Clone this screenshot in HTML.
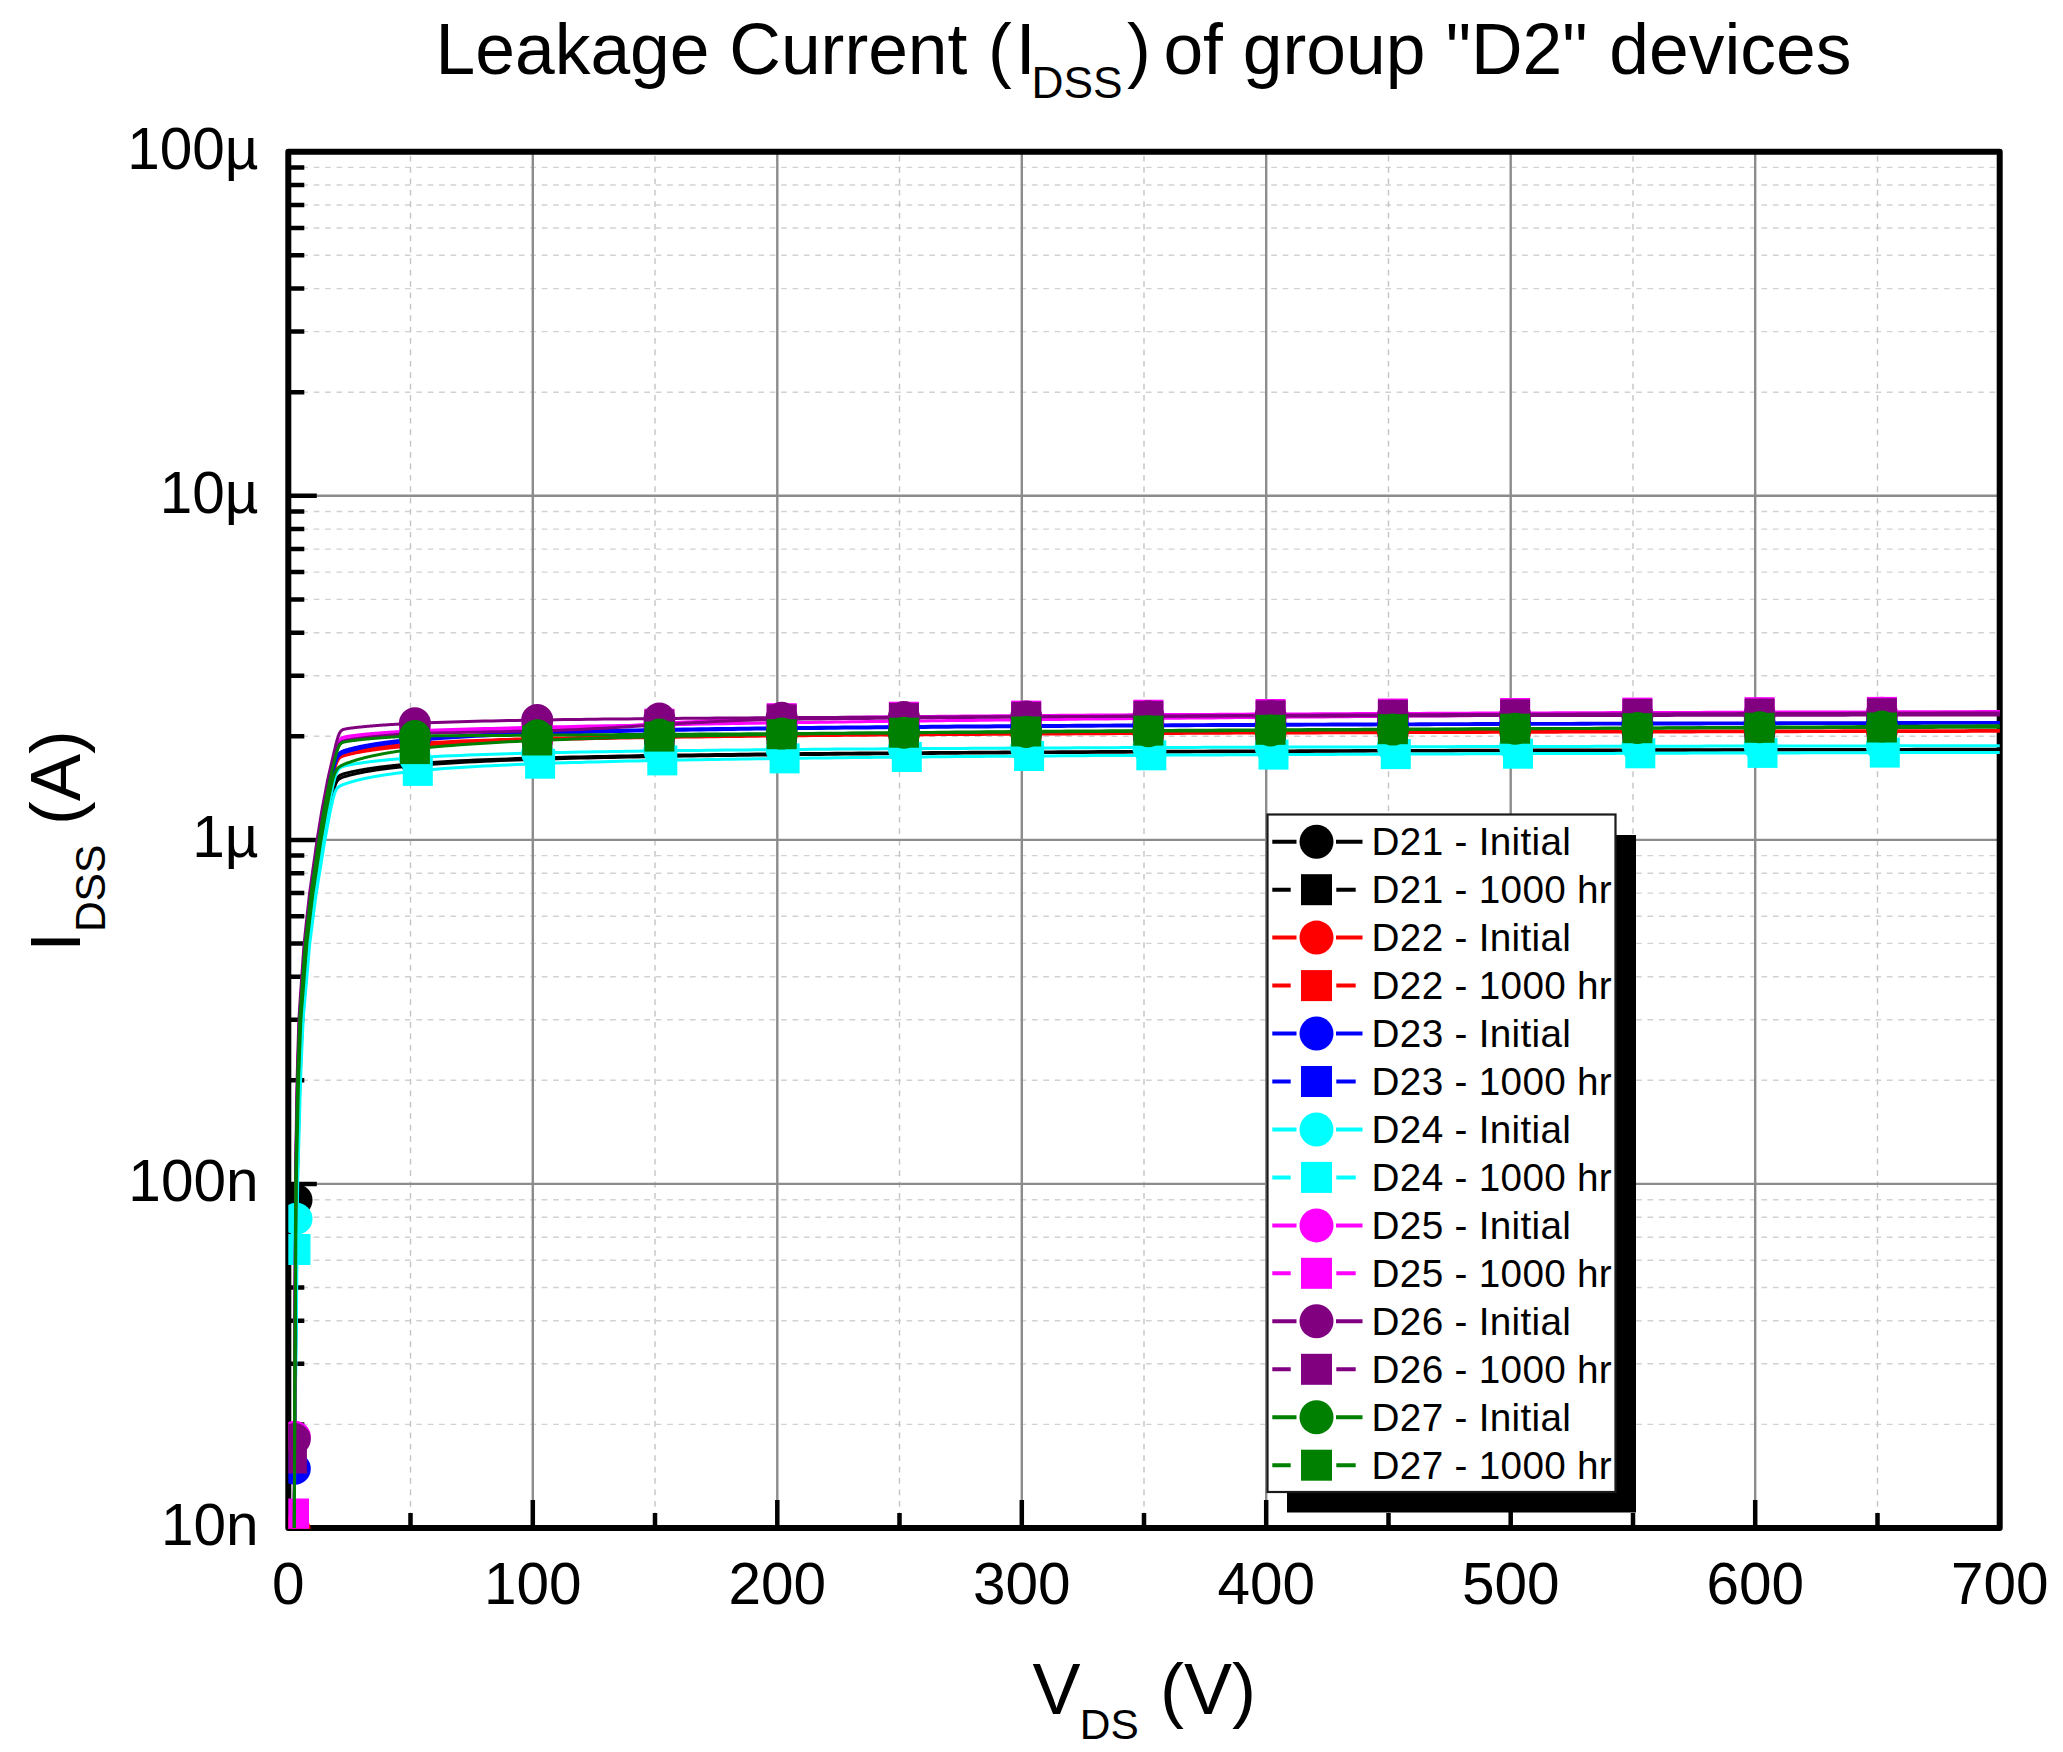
<!DOCTYPE html>
<html lang="en"><head><meta charset="utf-8"><title>Leakage Current (IDSS) of group "D2" devices</title>
<style>html,body{margin:0;padding:0;background:#fff}body{width:2063px;height:1752px;overflow:hidden}svg{display:block}</style></head>
<body>
<svg width="2063" height="1752" viewBox="0 0 2063 1752">
<rect width="2063" height="1752" fill="#fff"/>
<path d="M302.3 1424.4H1996.7M302.3 1363.8H1996.7M302.3 1320.8H1996.7M302.3 1287.5H1996.7M302.3 1260.3H1996.7M302.3 1237.2H1996.7M302.3 1217.3H1996.7M302.3 1199.7H1996.7M302.3 1080.3H1996.7M302.3 1019.8H1996.7M302.3 976.8H1996.7M302.3 943.4H1996.7M302.3 916.2H1996.7M302.3 893.1H1996.7M302.3 873.2H1996.7M302.3 855.6H1996.7M302.3 736.3H1996.7M302.3 675.7H1996.7M302.3 632.7H1996.7M302.3 599.4H1996.7M302.3 572.1H1996.7M302.3 549.1H1996.7M302.3 529.1H1996.7M302.3 511.5H1996.7M302.3 392.2H1996.7M302.3 331.6H1996.7M302.3 288.6H1996.7M302.3 255.3H1996.7M302.3 228.0H1996.7M302.3 205.0H1996.7M302.3 185.0H1996.7M302.3 167.4H1996.7" stroke="#d2d2d2" stroke-width="1.4" stroke-dasharray="5.7 5.7" fill="none"/>
<path d="M410.5 155.7V1514.0M655.0 155.7V1514.0M899.5 155.7V1514.0M1144.0 155.7V1514.0M1388.5 155.7V1514.0M1633.0 155.7V1514.0M1877.5 155.7V1514.0" stroke="#c4c4c4" stroke-width="1.4" stroke-dasharray="5.7 5.7" fill="none"/>
<path d="M288.3 1183.9H1999.7M288.3 839.9H1999.7M288.3 495.8H1999.7M532.8 151.7V1528.0M777.3 151.7V1528.0M1021.8 151.7V1528.0M1266.2 151.7V1528.0M1510.7 151.7V1528.0M1755.2 151.7V1528.0" stroke="#8c8c8c" stroke-width="2.4" fill="none"/>
<rect x="288.3" y="151.7" width="1711.4" height="1376.3" fill="none" stroke="#000" stroke-width="6" stroke-linejoin="round"/>
<path d="M288.3 1424.4h16M288.3 1363.8h16M288.3 1320.8h16M288.3 1287.5h16M288.3 1260.3h16M288.3 1237.2h16M288.3 1217.3h16M288.3 1199.7h16M288.3 1183.9h28.5M288.3 1080.3h16M288.3 1019.8h16M288.3 976.8h16M288.3 943.4h16M288.3 916.2h16M288.3 893.1h16M288.3 873.2h16M288.3 855.6h16M288.3 839.9h28.5M288.3 736.3h16M288.3 675.7h16M288.3 632.7h16M288.3 599.4h16M288.3 572.1h16M288.3 549.1h16M288.3 529.1h16M288.3 511.5h16M288.3 495.8h28.5M288.3 392.2h16M288.3 331.6h16M288.3 288.6h16M288.3 255.3h16M288.3 228.0h16M288.3 205.0h16M288.3 185.0h16M288.3 167.4h16M410.5 1528.0v-15M532.8 1528.0v-28M655.0 1528.0v-15M777.3 1528.0v-28M899.5 1528.0v-15M1021.8 1528.0v-28M1144.0 1528.0v-15M1266.2 1528.0v-28M1388.5 1528.0v-15M1510.7 1528.0v-28M1633.0 1528.0v-15M1755.2 1528.0v-28M1877.5 1528.0v-15" stroke="#000" stroke-width="4.5" stroke-linecap="butt" fill="none"/>
<clipPath id="cp"><rect x="288.3" y="151.7" width="1711.4" height="1377.0"/></clipPath>
<g clip-path="url(#cp)">
<path d="M294.3 1528.0L294.8 1426.9L295.3 1364.9L295.8 1329.7L296.3 1278.3L296.8 1208.5L297.3 1172.5L297.8 1154.8L298.3 1136.9L298.8 1117.0L299.3 1097.1L299.8 1078.5L300.3 1067.5L300.8 1055.8L301.3 1043.7L301.8 1031.6L302.3 1019.5L302.8 1013.4L303.3 1007.5L303.8 1001.6L304.3 995.7L304.8 989.9L305.3 984.0L305.8 978.2L306.3 972.3L306.8 966.3L307.3 960.2L307.8 954.2L308.3 948.1L308.8 942.7L309.3 938.8L309.8 934.8L310.3 930.9L310.8 926.9L311.3 923.0L311.8 919.0L312.3 915.1L312.8 911.1L313.3 907.1L313.8 903.1L314.3 899.1L314.8 895.1L315.3 891.7L315.8 888.5L316.3 885.4L316.8 882.2L317.3 879.1L317.8 876.0L318.3 872.8L318.8 869.7L319.3 866.5L319.8 863.4L320.3 860.3L320.8 857.1L321.3 853.9L321.8 850.8L322.3 847.6L322.8 844.5L323.3 841.3L323.8 838.4L324.3 835.7L324.8 832.9L325.3 830.2L325.8 827.5L326.3 824.7L326.8 822.0L327.3 819.2L327.8 816.5L328.3 813.7L328.8 811.0L329.3 808.5L329.8 806.1L330.3 803.8L330.8 801.4L331.3 799.1L331.8 796.8L332.3 794.5L332.8 792.2L333.3 790.1L333.8 788.0L334.3 786.0L334.8 784.1L335.3 782.5L335.8 781.2L336.3 780.1L336.8 779.1L337.3 778.2L337.8 777.5L338.3 776.9L338.8 776.4L339.3 775.9L339.8 775.6L340.3 775.2L340.8 775.0L341.3 774.7L341.8 774.5L342.3 774.3L342.8 774.2L343.3 774.0L343.8 773.8L344.3 773.7L344.8 773.5L345.3 773.4L345.8 773.3L346.3 773.1L346.8 773.0L347.3 772.9L347.8 772.8L348.3 772.6L348.8 772.5L349.3 772.4L349.8 772.3L350.3 772.2L350.8 772.1L351.3 771.9L351.8 771.8L352.3 771.7L352.8 771.6L353.3 771.5L353.8 771.4L354.3 771.3L354.8 771.2L355.3 771.1L355.8 771.0L356.3 770.9L356.8 770.8L357.3 770.7L357.8 770.6L358.3 770.5L358.8 770.4L359.3 770.3L359.8 770.2L360.3 770.1L360.8 770.0L361.3 769.9L361.8 769.9L362.3 769.8L362.8 769.7L363.3 769.6L363.8 769.5L364.3 769.4L364.8 769.3L365.3 769.3L365.8 769.2L366.3 769.1L366.8 769.0L367.3 768.9L367.8 768.8L368.3 768.8L368.8 768.7L369.3 768.6L369.8 768.5L370.3 768.5L370.8 768.4L371.3 768.3L371.8 768.2L372.3 768.2L372.8 768.1L373.3 768.0L373.8 768.0L374.3 767.9L374.8 767.8L375.3 767.7L375.8 767.7L376.3 767.6L376.8 767.5L377.3 767.5L377.8 767.4L378.3 767.3L378.8 767.3L379.3 767.2L379.8 767.1L380.3 767.1L380.8 767.0L381.3 767.0L381.8 766.9L382.3 766.8L382.8 766.8L383.3 766.7L383.8 766.7L384.3 766.6L384.8 766.5L385.3 766.5L385.8 766.4L386.3 766.4L386.8 766.3L387.3 766.2L387.8 766.2L388.3 766.1L388.8 766.1L389.3 766.0L389.8 766.0L390.3 765.9L390.8 765.9L391.3 765.8L391.8 765.8L392.3 765.7L392.8 765.6L393.3 765.6L393.8 765.5L394.3 765.5L394.8 765.4L395.3 765.4L395.8 765.3L396.3 765.3L396.8 765.2L397.3 765.2L397.8 765.1L398.3 765.1L398.8 765.0L399.3 765.0L399.8 765.0L400.3 764.9L400.8 764.9L401.3 764.8L401.8 764.8L402.3 764.7L402.8 764.7L403.3 764.6L403.8 764.6L404.3 764.5L404.8 764.5L405.3 764.4L405.8 764.4L406.3 764.4L406.8 764.3L407.3 764.3L407.8 764.2L408.3 764.2L408.8 764.1L409.3 764.1L409.8 764.1L410.3 764.0L410.8 764.0L411.3 763.9L411.8 763.9L412.3 763.9L412.8 763.8L413.3 763.8L413.8 763.7L414.3 763.7L414.8 763.7L415.3 763.6L415.8 763.6L416.3 763.5L416.8 763.5L417.3 763.5L417.8 763.4L418.3 763.4L418.8 763.4L419.3 763.3L420.0 763.3L428.0 762.7L436.0 762.2L444.0 761.7L452.0 761.3L460.0 760.8L468.0 760.5L476.0 760.1L484.0 759.8L492.0 759.4L500.0 759.2L508.0 758.9L516.0 758.6L524.0 758.3L532.0 758.1L540.0 757.9L548.0 757.7L556.0 757.5L564.0 757.3L572.0 757.1L580.0 756.9L588.0 756.7L596.0 756.5L604.0 756.4L612.0 756.2L620.0 756.1L628.0 755.9L636.0 755.8L644.0 755.6L652.0 755.5L660.0 755.4L668.0 755.3L676.0 755.1L684.0 755.0L692.0 754.9L700.0 754.8L708.0 754.7L716.0 754.6L724.0 754.5L732.0 754.4L740.0 754.3L748.0 754.2L756.0 754.1L764.0 754.0L772.0 754.0L780.0 753.9L788.0 753.8L796.0 753.7L804.0 753.6L812.0 753.6L820.0 753.5L828.0 753.4L836.0 753.3L844.0 753.3L852.0 753.2L860.0 753.1L868.0 753.1L876.0 753.0L884.0 753.0L892.0 752.9L900.0 752.8L908.0 752.8L916.0 752.7L924.0 752.7L932.0 752.6L940.0 752.5L948.0 752.5L956.0 752.4L964.0 752.4L972.0 752.3L980.0 752.3L988.0 752.2L996.0 752.2L1004.0 752.1L1012.0 752.1L1020.0 752.1L1028.0 752.0L1036.0 752.0L1044.0 751.9L1052.0 751.9L1060.0 751.8L1068.0 751.8L1076.0 751.8L1084.0 751.7L1092.0 751.7L1100.0 751.6L1108.0 751.6L1116.0 751.6L1124.0 751.5L1132.0 751.5L1140.0 751.5L1148.0 751.4L1156.0 751.4L1164.0 751.3L1172.0 751.3L1180.0 751.3L1188.0 751.2L1196.0 751.2L1204.0 751.2L1212.0 751.1L1220.0 751.1L1228.0 751.1L1236.0 751.1L1244.0 751.0L1252.0 751.0L1260.0 751.0L1268.0 750.9L1276.0 750.9L1284.0 750.9L1292.0 750.9L1300.0 750.8L1308.0 750.8L1316.0 750.8L1324.0 750.7L1332.0 750.7L1340.0 750.7L1348.0 750.7L1356.0 750.6L1364.0 750.6L1372.0 750.6L1380.0 750.6L1388.0 750.5L1396.0 750.5L1404.0 750.5L1412.0 750.5L1420.0 750.4L1428.0 750.4L1436.0 750.4L1444.0 750.4L1452.0 750.3L1460.0 750.3L1468.0 750.3L1476.0 750.3L1484.0 750.3L1492.0 750.2L1500.0 750.2L1508.0 750.2L1516.0 750.2L1524.0 750.2L1532.0 750.1L1540.0 750.1L1548.0 750.1L1556.0 750.1L1564.0 750.1L1572.0 750.0L1580.0 750.0L1588.0 750.0L1596.0 750.0L1604.0 750.0L1612.0 749.9L1620.0 749.9L1628.0 749.9L1636.0 749.9L1644.0 749.9L1652.0 749.8L1660.0 749.8L1668.0 749.8L1676.0 749.8L1684.0 749.8L1692.0 749.8L1700.0 749.7L1708.0 749.7L1716.0 749.7L1724.0 749.7L1732.0 749.7L1740.0 749.7L1748.0 749.6L1756.0 749.6L1764.0 749.6L1772.0 749.6L1780.0 749.6L1788.0 749.6L1796.0 749.6L1804.0 749.5L1812.0 749.5L1820.0 749.5L1828.0 749.5L1836.0 749.5L1844.0 749.5L1852.0 749.4L1860.0 749.4L1868.0 749.4L1876.0 749.4L1884.0 749.4L1892.0 749.4L1900.0 749.4L1908.0 749.4L1916.0 749.3L1924.0 749.3L1932.0 749.3L1940.0 749.3L1948.0 749.3L1956.0 749.3L1964.0 749.3L1972.0 749.2L1980.0 749.2L1988.0 749.2L1996.0 749.2L2004.0 749.2" stroke="#000000" stroke-width="3" fill="none" stroke-linejoin="round"/>
<g fill="#000000"><circle cx="296.5" cy="1200" r="16"/><circle cx="414.9" cy="763.6" r="13.5"/><circle cx="537.2" cy="758.0" r="13.5"/><circle cx="659.4" cy="755.4" r="13.5"/><circle cx="781.7" cy="753.9" r="13.5"/><circle cx="903.9" cy="752.8" r="13.5"/><circle cx="1026.2" cy="752.0" r="13.5"/><circle cx="1148.4" cy="751.4" r="13.5"/><circle cx="1270.6" cy="750.9" r="13.5"/><circle cx="1392.9" cy="750.5" r="13.5"/><circle cx="1515.1" cy="750.2" r="13.5"/><circle cx="1637.4" cy="749.9" r="13.5"/><circle cx="1759.6" cy="749.6" r="13.5"/><circle cx="1881.9" cy="749.4" r="13.5"/></g>
<path d="M294.3 1528.0L294.8 1429.8L295.3 1370.7L295.8 1341.2L296.3 1293.9L296.8 1226.3L297.3 1177.7L297.8 1160.7L298.3 1143.4L298.8 1123.9L299.3 1104.4L299.8 1085.1L300.3 1072.1L300.8 1060.6L301.3 1048.6L301.8 1036.6L302.3 1024.6L302.8 1015.9L303.3 1010.1L303.8 1004.3L304.3 998.5L304.8 992.7L305.3 986.9L305.8 981.1L306.3 975.3L306.8 969.3L307.3 963.3L307.8 957.3L308.3 951.3L308.8 945.3L309.3 940.9L309.8 937.0L310.3 933.1L310.8 929.1L311.3 925.2L311.8 921.3L312.3 917.4L312.8 913.4L313.3 909.4L313.8 905.4L314.3 901.5L314.8 897.5L315.3 893.6L315.8 890.5L316.3 887.4L316.8 884.2L317.3 881.1L317.8 878.0L318.3 874.9L318.8 871.8L319.3 868.6L319.8 865.5L320.3 862.4L320.8 859.3L321.3 856.1L321.8 853.0L322.3 849.8L322.8 846.7L323.3 843.5L323.8 840.4L324.3 837.6L324.8 834.9L325.3 832.2L325.8 829.5L326.3 826.7L326.8 824.0L327.3 821.3L327.8 818.5L328.3 815.8L328.8 813.1L329.3 810.4L329.8 808.0L330.3 805.7L330.8 803.3L331.3 801.0L331.8 798.8L332.3 796.5L332.8 794.3L333.3 792.2L333.8 790.2L334.3 788.3L334.8 786.5L335.3 785.0L335.8 783.6L336.3 782.6L336.8 781.7L337.3 781.0L337.8 780.3L338.3 779.8L338.8 779.3L339.3 778.9L339.8 778.6L340.3 778.3L340.8 778.1L341.3 777.8L341.8 777.6L342.3 777.4L342.8 777.2L343.3 777.0L343.8 776.9L344.3 776.7L344.8 776.6L345.3 776.4L345.8 776.3L346.3 776.1L346.8 776.0L347.3 775.8L347.8 775.7L348.3 775.6L348.8 775.4L349.3 775.3L349.8 775.2L350.3 775.0L350.8 774.9L351.3 774.8L351.8 774.7L352.3 774.6L352.8 774.4L353.3 774.3L353.8 774.2L354.3 774.1L354.8 774.0L355.3 773.9L355.8 773.7L356.3 773.6L356.8 773.5L357.3 773.4L357.8 773.3L358.3 773.2L358.8 773.1L359.3 773.0L359.8 772.9L360.3 772.8L360.8 772.7L361.3 772.6L361.8 772.5L362.3 772.4L362.8 772.3L363.3 772.2L363.8 772.1L364.3 772.0L364.8 771.9L365.3 771.8L365.8 771.7L366.3 771.6L366.8 771.5L367.3 771.5L367.8 771.4L368.3 771.3L368.8 771.2L369.3 771.1L369.8 771.0L370.3 770.9L370.8 770.9L371.3 770.8L371.8 770.7L372.3 770.6L372.8 770.5L373.3 770.5L373.8 770.4L374.3 770.3L374.8 770.2L375.3 770.1L375.8 770.1L376.3 770.0L376.8 769.9L377.3 769.8L377.8 769.8L378.3 769.7L378.8 769.6L379.3 769.6L379.8 769.5L380.3 769.4L380.8 769.3L381.3 769.3L381.8 769.2L382.3 769.1L382.8 769.1L383.3 769.0L383.8 768.9L384.3 768.9L384.8 768.8L385.3 768.7L385.8 768.7L386.3 768.6L386.8 768.6L387.3 768.5L387.8 768.4L388.3 768.4L388.8 768.3L389.3 768.2L389.8 768.2L390.3 768.1L390.8 768.1L391.3 768.0L391.8 767.9L392.3 767.9L392.8 767.8L393.3 767.8L393.8 767.7L394.3 767.7L394.8 767.6L395.3 767.5L395.8 767.5L396.3 767.4L396.8 767.4L397.3 767.3L397.8 767.3L398.3 767.2L398.8 767.2L399.3 767.1L399.8 767.1L400.3 767.0L400.8 766.9L401.3 766.9L401.8 766.8L402.3 766.8L402.8 766.7L403.3 766.7L403.8 766.6L404.3 766.6L404.8 766.5L405.3 766.5L405.8 766.4L406.3 766.4L406.8 766.4L407.3 766.3L407.8 766.3L408.3 766.2L408.8 766.2L409.3 766.1L409.8 766.1L410.3 766.0L410.8 766.0L411.3 765.9L411.8 765.9L412.3 765.8L412.8 765.8L413.3 765.8L413.8 765.7L414.3 765.7L414.8 765.6L415.3 765.6L415.8 765.5L416.3 765.5L416.8 765.4L417.3 765.4L417.8 765.4L418.3 765.3L418.8 765.3L419.3 765.2L420.0 765.2L428.0 764.6L436.0 764.0L444.0 763.5L452.0 763.0L460.0 762.5L468.0 762.1L476.0 761.7L484.0 761.3L492.0 761.0L500.0 760.6L508.0 760.3L516.0 760.0L524.0 759.7L532.0 759.5L540.0 759.2L548.0 759.0L556.0 758.7L564.0 758.5L572.0 758.3L580.0 758.1L588.0 757.9L596.0 757.7L604.0 757.5L612.0 757.4L620.0 757.2L628.0 757.0L636.0 756.9L644.0 756.7L652.0 756.6L660.0 756.5L668.0 756.3L676.0 756.2L684.0 756.1L692.0 755.9L700.0 755.8L708.0 755.7L716.0 755.6L724.0 755.5L732.0 755.4L740.0 755.3L748.0 755.2L756.0 755.1L764.0 755.0L772.0 754.9L780.0 754.8L788.0 754.7L796.0 754.6L804.0 754.5L812.0 754.4L820.0 754.4L828.0 754.3L836.0 754.2L844.0 754.1L852.0 754.0L860.0 754.0L868.0 753.9L876.0 753.8L884.0 753.8L892.0 753.7L900.0 753.6L908.0 753.6L916.0 753.5L924.0 753.4L932.0 753.4L940.0 753.3L948.0 753.3L956.0 753.2L964.0 753.1L972.0 753.1L980.0 753.0L988.0 753.0L996.0 752.9L1004.0 752.9L1012.0 752.8L1020.0 752.8L1028.0 752.7L1036.0 752.7L1044.0 752.6L1052.0 752.6L1060.0 752.5L1068.0 752.5L1076.0 752.4L1084.0 752.4L1092.0 752.3L1100.0 752.3L1108.0 752.3L1116.0 752.2L1124.0 752.2L1132.0 752.1L1140.0 752.1L1148.0 752.1L1156.0 752.0L1164.0 752.0L1172.0 751.9L1180.0 751.9L1188.0 751.9L1196.0 751.8L1204.0 751.8L1212.0 751.8L1220.0 751.7L1228.0 751.7L1236.0 751.7L1244.0 751.6L1252.0 751.6L1260.0 751.6L1268.0 751.5L1276.0 751.5L1284.0 751.5L1292.0 751.4L1300.0 751.4L1308.0 751.4L1316.0 751.3L1324.0 751.3L1332.0 751.3L1340.0 751.2L1348.0 751.2L1356.0 751.2L1364.0 751.2L1372.0 751.1L1380.0 751.1L1388.0 751.1L1396.0 751.1L1404.0 751.0L1412.0 751.0L1420.0 751.0L1428.0 750.9L1436.0 750.9L1444.0 750.9L1452.0 750.9L1460.0 750.8L1468.0 750.8L1476.0 750.8L1484.0 750.8L1492.0 750.8L1500.0 750.7L1508.0 750.7L1516.0 750.7L1524.0 750.7L1532.0 750.6L1540.0 750.6L1548.0 750.6L1556.0 750.6L1564.0 750.5L1572.0 750.5L1580.0 750.5L1588.0 750.5L1596.0 750.5L1604.0 750.4L1612.0 750.4L1620.0 750.4L1628.0 750.4L1636.0 750.4L1644.0 750.3L1652.0 750.3L1660.0 750.3L1668.0 750.3L1676.0 750.3L1684.0 750.2L1692.0 750.2L1700.0 750.2L1708.0 750.2L1716.0 750.2L1724.0 750.1L1732.0 750.1L1740.0 750.1L1748.0 750.1L1756.0 750.1L1764.0 750.1L1772.0 750.0L1780.0 750.0L1788.0 750.0L1796.0 750.0L1804.0 750.0L1812.0 750.0L1820.0 749.9L1828.0 749.9L1836.0 749.9L1844.0 749.9L1852.0 749.9L1860.0 749.9L1868.0 749.8L1876.0 749.8L1884.0 749.8L1892.0 749.8L1900.0 749.8L1908.0 749.8L1916.0 749.8L1924.0 749.7L1932.0 749.7L1940.0 749.7L1948.0 749.7L1956.0 749.7L1964.0 749.7L1972.0 749.6L1980.0 749.6L1988.0 749.6L1996.0 749.6L2004.0 749.6" stroke="#000000" stroke-width="3" fill="none" stroke-linejoin="round"/>
<g fill="#000000"></g>
<path d="M294.3 1528.0L294.8 1399.0L295.3 1307.1L295.8 1214.2L296.3 1167.8L296.8 1143.9L297.3 1119.9L297.8 1096.0L298.3 1075.5L298.8 1062.2L299.3 1048.8L299.8 1035.4L300.3 1022.0L300.8 1014.0L301.3 1007.5L301.8 1001.0L302.3 994.5L302.8 988.0L303.3 981.5L303.8 975.0L304.3 968.5L304.8 962.0L305.3 955.5L305.8 949.0L306.3 943.0L306.8 938.8L307.3 934.5L307.8 930.3L308.3 926.0L308.8 921.8L309.3 917.5L309.8 913.3L310.3 909.0L310.8 904.8L311.3 900.5L311.8 896.3L312.3 892.4L312.8 889.1L313.3 885.7L313.8 882.4L314.3 879.1L314.8 875.7L315.3 872.4L315.8 869.0L316.3 865.7L316.8 862.3L317.3 859.0L317.8 855.7L318.3 852.3L318.8 849.0L319.3 845.6L319.8 842.3L320.3 839.1L320.8 836.2L321.3 833.3L321.8 830.4L322.3 827.5L322.8 824.6L323.3 821.7L323.8 818.8L324.3 815.9L324.8 813.0L325.3 810.2L325.8 807.6L326.3 805.1L326.8 802.6L327.3 800.1L327.8 797.6L328.3 795.1L328.8 792.6L329.3 790.1L329.8 787.6L330.3 785.1L330.8 782.6L331.3 780.2L331.8 778.1L332.3 776.1L332.8 774.1L333.3 772.1L333.8 770.2L334.3 768.3L334.8 766.5L335.3 764.7L335.8 763.1L336.3 761.6L336.8 760.2L337.3 759.0L337.8 757.9L338.3 757.0L338.8 756.2L339.3 755.6L339.8 755.0L340.3 754.6L340.8 754.2L341.3 753.9L341.8 753.7L342.3 753.5L342.8 753.3L343.3 753.1L343.8 752.9L344.3 752.8L344.8 752.7L345.3 752.5L345.8 752.4L346.3 752.3L346.8 752.2L347.3 752.0L347.8 751.9L348.3 751.8L348.8 751.7L349.3 751.6L349.8 751.5L350.3 751.4L350.8 751.3L351.3 751.2L351.8 751.1L352.3 751.0L352.8 750.9L353.3 750.8L353.8 750.7L354.3 750.6L354.8 750.5L355.3 750.4L355.8 750.3L356.3 750.2L356.8 750.1L357.3 750.1L357.8 750.0L358.3 749.9L358.8 749.8L359.3 749.7L359.8 749.6L360.3 749.5L360.8 749.5L361.3 749.4L361.8 749.3L362.3 749.2L362.8 749.1L363.3 749.1L363.8 749.0L364.3 748.9L364.8 748.8L365.3 748.8L365.8 748.7L366.3 748.6L366.8 748.5L367.3 748.5L367.8 748.4L368.3 748.3L368.8 748.2L369.3 748.2L369.8 748.1L370.3 748.0L370.8 748.0L371.3 747.9L371.8 747.8L372.3 747.8L372.8 747.7L373.3 747.6L373.8 747.6L374.3 747.5L374.8 747.5L375.3 747.4L375.8 747.3L376.3 747.3L376.8 747.2L377.3 747.1L377.8 747.1L378.3 747.0L378.8 747.0L379.3 746.9L379.8 746.9L380.3 746.8L380.8 746.7L381.3 746.7L381.8 746.6L382.3 746.6L382.8 746.5L383.3 746.5L383.8 746.4L384.3 746.3L384.8 746.3L385.3 746.2L385.8 746.2L386.3 746.1L386.8 746.1L387.3 746.0L387.8 746.0L388.3 745.9L388.8 745.9L389.3 745.8L389.8 745.8L390.3 745.7L390.8 745.7L391.3 745.6L391.8 745.6L392.3 745.5L392.8 745.5L393.3 745.4L393.8 745.4L394.3 745.4L394.8 745.3L395.3 745.3L395.8 745.2L396.3 745.2L396.8 745.1L397.3 745.1L397.8 745.0L398.3 745.0L398.8 744.9L399.3 744.9L399.8 744.9L400.3 744.8L400.8 744.8L401.3 744.7L401.8 744.7L402.3 744.6L402.8 744.6L403.3 744.6L403.8 744.5L404.3 744.5L404.8 744.4L405.3 744.4L405.8 744.4L406.3 744.3L406.8 744.3L407.3 744.2L407.8 744.2L408.3 744.2L408.8 744.1L409.3 744.1L409.8 744.1L410.3 744.0L410.8 744.0L411.3 743.9L411.8 743.9L412.3 743.9L412.8 743.8L413.3 743.8L413.8 743.8L414.3 743.7L414.8 743.7L415.3 743.7L415.8 743.6L416.3 743.6L416.8 743.5L417.3 743.5L417.8 743.5L418.3 743.4L418.8 743.4L419.3 743.4L420.0 743.3L428.0 742.8L436.0 742.3L444.0 741.9L452.0 741.5L460.0 741.1L468.0 740.8L476.0 740.5L484.0 740.2L492.0 739.9L500.0 739.6L508.0 739.4L516.0 739.1L524.0 738.9L532.0 738.7L540.0 738.5L548.0 738.3L556.0 738.1L564.0 737.9L572.0 737.7L580.0 737.6L588.0 737.4L596.0 737.2L604.0 737.1L612.0 737.0L620.0 736.8L628.0 736.7L636.0 736.6L644.0 736.4L652.0 736.3L660.0 736.2L668.0 736.1L676.0 736.0L684.0 735.9L692.0 735.8L700.0 735.7L708.0 735.6L716.0 735.5L724.0 735.4L732.0 735.3L740.0 735.2L748.0 735.1L756.0 735.1L764.0 735.0L772.0 734.9L780.0 734.8L788.0 734.8L796.0 734.7L804.0 734.6L812.0 734.5L820.0 734.5L828.0 734.4L836.0 734.4L844.0 734.3L852.0 734.2L860.0 734.2L868.0 734.1L876.0 734.1L884.0 734.0L892.0 733.9L900.0 733.9L908.0 733.8L916.0 733.8L924.0 733.7L932.0 733.7L940.0 733.6L948.0 733.6L956.0 733.5L964.0 733.5L972.0 733.4L980.0 733.4L988.0 733.4L996.0 733.3L1004.0 733.3L1012.0 733.2L1020.0 733.2L1028.0 733.1L1036.0 733.1L1044.0 733.1L1052.0 733.0L1060.0 733.0L1068.0 733.0L1076.0 732.9L1084.0 732.9L1092.0 732.8L1100.0 732.8L1108.0 732.8L1116.0 732.7L1124.0 732.7L1132.0 732.7L1140.0 732.6L1148.0 732.6L1156.0 732.6L1164.0 732.5L1172.0 732.5L1180.0 732.5L1188.0 732.5L1196.0 732.4L1204.0 732.4L1212.0 732.4L1220.0 732.3L1228.0 732.3L1236.0 732.3L1244.0 732.3L1252.0 732.2L1260.0 732.2L1268.0 732.2L1276.0 732.1L1284.0 732.1L1292.0 732.1L1300.0 732.1L1308.0 732.0L1316.0 732.0L1324.0 732.0L1332.0 732.0L1340.0 731.9L1348.0 731.9L1356.0 731.9L1364.0 731.9L1372.0 731.9L1380.0 731.8L1388.0 731.8L1396.0 731.8L1404.0 731.8L1412.0 731.7L1420.0 731.7L1428.0 731.7L1436.0 731.7L1444.0 731.7L1452.0 731.6L1460.0 731.6L1468.0 731.6L1476.0 731.6L1484.0 731.6L1492.0 731.5L1500.0 731.5L1508.0 731.5L1516.0 731.5L1524.0 731.5L1532.0 731.4L1540.0 731.4L1548.0 731.4L1556.0 731.4L1564.0 731.4L1572.0 731.4L1580.0 731.3L1588.0 731.3L1596.0 731.3L1604.0 731.3L1612.0 731.3L1620.0 731.3L1628.0 731.2L1636.0 731.2L1644.0 731.2L1652.0 731.2L1660.0 731.2L1668.0 731.2L1676.0 731.1L1684.0 731.1L1692.0 731.1L1700.0 731.1L1708.0 731.1L1716.0 731.1L1724.0 731.0L1732.0 731.0L1740.0 731.0L1748.0 731.0L1756.0 731.0L1764.0 731.0L1772.0 731.0L1780.0 730.9L1788.0 730.9L1796.0 730.9L1804.0 730.9L1812.0 730.9L1820.0 730.9L1828.0 730.9L1836.0 730.9L1844.0 730.8L1852.0 730.8L1860.0 730.8L1868.0 730.8L1876.0 730.8L1884.0 730.8L1892.0 730.8L1900.0 730.7L1908.0 730.7L1916.0 730.7L1924.0 730.7L1932.0 730.7L1940.0 730.7L1948.0 730.7L1956.0 730.7L1964.0 730.7L1972.0 730.6L1980.0 730.6L1988.0 730.6L1996.0 730.6L2004.0 730.6" stroke="#ff0000" stroke-width="3" fill="none" stroke-linejoin="round"/>
<g fill="#ff0000"><circle cx="294.8" cy="1530" r="16"/><circle cx="414.9" cy="743.7" r="16"/><circle cx="537.2" cy="738.5" r="16"/><circle cx="659.4" cy="736.2" r="16"/><circle cx="781.7" cy="734.8" r="16"/><circle cx="903.9" cy="733.9" r="16"/><circle cx="1026.2" cy="733.2" r="16"/><circle cx="1148.4" cy="732.6" r="16"/><circle cx="1270.6" cy="732.2" r="16"/><circle cx="1392.9" cy="731.8" r="16"/><circle cx="1515.1" cy="731.5" r="16"/><circle cx="1637.4" cy="731.2" r="16"/><circle cx="1759.6" cy="731.0" r="16"/><circle cx="1881.9" cy="730.8" r="16"/></g>
<path d="M294.3 1528.0L294.8 1401.4L295.3 1312.9L295.8 1225.8L296.3 1171.9L296.8 1148.5L297.3 1125.2L297.8 1101.9L298.3 1079.2L298.8 1066.0L299.3 1052.9L299.8 1039.7L300.3 1026.6L300.8 1016.3L301.3 1009.8L301.8 1003.4L302.3 997.0L302.8 990.5L303.3 984.1L303.8 977.7L304.3 971.2L304.8 964.8L305.3 958.4L305.8 951.9L306.3 945.5L306.8 940.8L307.3 936.5L307.8 932.3L308.3 928.1L308.8 923.9L309.3 919.6L309.8 915.4L310.3 911.2L310.8 907.0L311.3 902.8L311.8 898.5L312.3 894.3L312.8 890.9L313.3 887.6L313.8 884.3L314.3 880.9L314.8 877.6L315.3 874.3L315.8 871.0L316.3 867.7L316.8 864.3L317.3 861.0L317.8 857.7L318.3 854.4L318.8 851.0L319.3 847.7L319.8 844.4L320.3 841.1L320.8 838.0L321.3 835.2L321.8 832.3L322.3 829.4L322.8 826.5L323.3 823.7L323.8 820.8L324.3 817.9L324.8 815.0L325.3 812.2L325.8 809.4L326.3 806.9L326.8 804.4L327.3 801.9L327.8 799.4L328.3 796.9L328.8 794.4L329.3 792.0L329.8 789.5L330.3 787.0L330.8 784.5L331.3 782.1L331.8 779.8L332.3 777.7L332.8 775.8L333.3 773.8L333.8 771.9L334.3 770.1L334.8 768.4L335.3 766.7L335.8 765.1L336.3 763.7L336.8 762.4L337.3 761.3L337.8 760.4L338.3 759.5L338.8 758.8L339.3 758.3L339.8 757.8L340.3 757.4L340.8 757.1L341.3 756.8L341.8 756.5L342.3 756.3L342.8 756.1L343.3 756.0L343.8 755.8L344.3 755.6L344.8 755.5L345.3 755.3L345.8 755.2L346.3 755.1L346.8 754.9L347.3 754.8L347.8 754.7L348.3 754.6L348.8 754.5L349.3 754.3L349.8 754.2L350.3 754.1L350.8 754.0L351.3 753.9L351.8 753.8L352.3 753.7L352.8 753.6L353.3 753.5L353.8 753.3L354.3 753.2L354.8 753.1L355.3 753.0L355.8 752.9L356.3 752.8L356.8 752.7L357.3 752.6L357.8 752.5L358.3 752.4L358.8 752.4L359.3 752.3L359.8 752.2L360.3 752.1L360.8 752.0L361.3 751.9L361.8 751.8L362.3 751.7L362.8 751.6L363.3 751.6L363.8 751.5L364.3 751.4L364.8 751.3L365.3 751.2L365.8 751.1L366.3 751.1L366.8 751.0L367.3 750.9L367.8 750.8L368.3 750.7L368.8 750.7L369.3 750.6L369.8 750.5L370.3 750.4L370.8 750.4L371.3 750.3L371.8 750.2L372.3 750.1L372.8 750.1L373.3 750.0L373.8 749.9L374.3 749.9L374.8 749.8L375.3 749.7L375.8 749.7L376.3 749.6L376.8 749.5L377.3 749.5L377.8 749.4L378.3 749.3L378.8 749.3L379.3 749.2L379.8 749.1L380.3 749.1L380.8 749.0L381.3 748.9L381.8 748.9L382.3 748.8L382.8 748.8L383.3 748.7L383.8 748.6L384.3 748.6L384.8 748.5L385.3 748.5L385.8 748.4L386.3 748.3L386.8 748.3L387.3 748.2L387.8 748.2L388.3 748.1L388.8 748.1L389.3 748.0L389.8 748.0L390.3 747.9L390.8 747.8L391.3 747.8L391.8 747.7L392.3 747.7L392.8 747.6L393.3 747.6L393.8 747.5L394.3 747.5L394.8 747.4L395.3 747.4L395.8 747.3L396.3 747.3L396.8 747.2L397.3 747.2L397.8 747.1L398.3 747.1L398.8 747.0L399.3 747.0L399.8 746.9L400.3 746.9L400.8 746.9L401.3 746.8L401.8 746.8L402.3 746.7L402.8 746.7L403.3 746.6L403.8 746.6L404.3 746.5L404.8 746.5L405.3 746.4L405.8 746.4L406.3 746.4L406.8 746.3L407.3 746.3L407.8 746.2L408.3 746.2L408.8 746.1L409.3 746.1L409.8 746.1L410.3 746.0L410.8 746.0L411.3 745.9L411.8 745.9L412.3 745.9L412.8 745.8L413.3 745.8L413.8 745.7L414.3 745.7L414.8 745.7L415.3 745.6L415.8 745.6L416.3 745.5L416.8 745.5L417.3 745.5L417.8 745.4L418.3 745.4L418.8 745.4L419.3 745.3L420.0 745.3L428.0 744.7L436.0 744.2L444.0 743.7L452.0 743.3L460.0 742.9L468.0 742.5L476.0 742.1L484.0 741.8L492.0 741.5L500.0 741.2L508.0 740.9L516.0 740.6L524.0 740.4L532.0 740.1L540.0 739.9L548.0 739.7L556.0 739.5L564.0 739.3L572.0 739.1L580.0 738.9L588.0 738.8L596.0 738.6L604.0 738.4L612.0 738.3L620.0 738.1L628.0 738.0L636.0 737.8L644.0 737.7L652.0 737.6L660.0 737.4L668.0 737.3L676.0 737.2L684.0 737.1L692.0 737.0L700.0 736.9L708.0 736.8L716.0 736.7L724.0 736.6L732.0 736.5L740.0 736.4L748.0 736.3L756.0 736.2L764.0 736.1L772.0 736.0L780.0 735.9L788.0 735.9L796.0 735.8L804.0 735.7L812.0 735.6L820.0 735.6L828.0 735.5L836.0 735.4L844.0 735.3L852.0 735.3L860.0 735.2L868.0 735.2L876.0 735.1L884.0 735.0L892.0 735.0L900.0 734.9L908.0 734.8L916.0 734.8L924.0 734.7L932.0 734.7L940.0 734.6L948.0 734.6L956.0 734.5L964.0 734.5L972.0 734.4L980.0 734.4L988.0 734.3L996.0 734.3L1004.0 734.2L1012.0 734.2L1020.0 734.1L1028.0 734.1L1036.0 734.1L1044.0 734.0L1052.0 734.0L1060.0 733.9L1068.0 733.9L1076.0 733.8L1084.0 733.8L1092.0 733.8L1100.0 733.7L1108.0 733.7L1116.0 733.6L1124.0 733.6L1132.0 733.6L1140.0 733.5L1148.0 733.5L1156.0 733.5L1164.0 733.4L1172.0 733.4L1180.0 733.4L1188.0 733.3L1196.0 733.3L1204.0 733.3L1212.0 733.2L1220.0 733.2L1228.0 733.2L1236.0 733.1L1244.0 733.1L1252.0 733.1L1260.0 733.1L1268.0 733.0L1276.0 733.0L1284.0 733.0L1292.0 732.9L1300.0 732.9L1308.0 732.9L1316.0 732.9L1324.0 732.8L1332.0 732.8L1340.0 732.8L1348.0 732.8L1356.0 732.7L1364.0 732.7L1372.0 732.7L1380.0 732.7L1388.0 732.6L1396.0 732.6L1404.0 732.6L1412.0 732.6L1420.0 732.5L1428.0 732.5L1436.0 732.5L1444.0 732.5L1452.0 732.4L1460.0 732.4L1468.0 732.4L1476.0 732.4L1484.0 732.4L1492.0 732.3L1500.0 732.3L1508.0 732.3L1516.0 732.3L1524.0 732.2L1532.0 732.2L1540.0 732.2L1548.0 732.2L1556.0 732.2L1564.0 732.1L1572.0 732.1L1580.0 732.1L1588.0 732.1L1596.0 732.1L1604.0 732.1L1612.0 732.0L1620.0 732.0L1628.0 732.0L1636.0 732.0L1644.0 732.0L1652.0 731.9L1660.0 731.9L1668.0 731.9L1676.0 731.9L1684.0 731.9L1692.0 731.9L1700.0 731.8L1708.0 731.8L1716.0 731.8L1724.0 731.8L1732.0 731.8L1740.0 731.8L1748.0 731.7L1756.0 731.7L1764.0 731.7L1772.0 731.7L1780.0 731.7L1788.0 731.7L1796.0 731.7L1804.0 731.6L1812.0 731.6L1820.0 731.6L1828.0 731.6L1836.0 731.6L1844.0 731.6L1852.0 731.5L1860.0 731.5L1868.0 731.5L1876.0 731.5L1884.0 731.5L1892.0 731.5L1900.0 731.5L1908.0 731.4L1916.0 731.4L1924.0 731.4L1932.0 731.4L1940.0 731.4L1948.0 731.4L1956.0 731.4L1964.0 731.4L1972.0 731.3L1980.0 731.3L1988.0 731.3L1996.0 731.3L2004.0 731.3" stroke="#ff0000" stroke-width="3" fill="none" stroke-linejoin="round"/>
<g fill="#ff0000"><rect x="399.9" y="730.6" width="30" height="30"/><rect x="522.2" y="725.0" width="30" height="30"/><rect x="644.4" y="722.5" width="30" height="30"/><rect x="766.7" y="720.9" width="30" height="30"/><rect x="888.9" y="719.9" width="30" height="30"/><rect x="1011.2" y="719.1" width="30" height="30"/><rect x="1133.4" y="718.5" width="30" height="30"/><rect x="1255.6" y="718.0" width="30" height="30"/><rect x="1377.9" y="717.6" width="30" height="30"/><rect x="1500.1" y="717.3" width="30" height="30"/><rect x="1622.4" y="717.0" width="30" height="30"/><rect x="1744.6" y="716.7" width="30" height="30"/><rect x="1866.9" y="716.5" width="30" height="30"/></g>
<path d="M294.3 1528.0L294.8 1394.4L295.3 1293.8L295.8 1187.7L296.3 1158.3L296.8 1133.1L297.3 1107.8L297.8 1082.4L298.3 1067.2L298.8 1053.3L299.3 1039.4L299.8 1025.5L300.3 1015.4L300.8 1008.7L301.3 1002.1L301.8 995.4L302.3 988.8L302.8 982.2L303.3 975.5L303.8 968.9L304.3 962.2L304.8 955.6L305.3 948.9L305.8 942.9L306.3 938.5L306.8 934.2L307.3 929.9L307.8 925.6L308.3 921.3L308.8 916.9L309.3 912.6L309.8 908.3L310.3 904.0L310.8 899.7L311.3 895.3L311.8 891.6L312.3 888.3L312.8 884.9L313.3 881.5L313.8 878.1L314.3 874.7L314.8 871.3L315.3 867.9L315.8 864.5L316.3 861.1L316.8 857.8L317.3 854.4L317.8 851.0L318.3 847.6L318.8 844.2L319.3 840.8L319.8 837.8L320.3 834.8L320.8 831.9L321.3 829.0L321.8 826.0L322.3 823.1L322.8 820.2L323.3 817.3L323.8 814.3L324.3 811.4L324.8 808.7L325.3 806.1L325.8 803.6L326.3 801.1L326.8 798.5L327.3 796.0L327.8 793.5L328.3 790.9L328.8 788.4L329.3 785.9L329.8 783.4L330.3 780.9L330.8 778.7L331.3 776.6L331.8 774.6L332.3 772.5L332.8 770.5L333.3 768.6L333.8 766.7L334.3 764.9L334.8 763.1L335.3 761.5L335.8 759.9L336.3 758.5L336.8 757.3L337.3 756.2L337.8 755.3L338.3 754.5L338.8 753.8L339.3 753.3L339.8 752.8L340.3 752.4L340.8 752.1L341.3 751.8L341.8 751.5L342.3 751.3L342.8 751.1L343.3 750.9L343.8 750.7L344.3 750.5L344.8 750.4L345.3 750.2L345.8 750.0L346.3 749.9L346.8 749.7L347.3 749.6L347.8 749.5L348.3 749.3L348.8 749.2L349.3 749.0L349.8 748.9L350.3 748.8L350.8 748.6L351.3 748.5L351.8 748.4L352.3 748.3L352.8 748.1L353.3 748.0L353.8 747.9L354.3 747.8L354.8 747.7L355.3 747.5L355.8 747.4L356.3 747.3L356.8 747.2L357.3 747.1L357.8 747.0L358.3 746.9L358.8 746.7L359.3 746.6L359.8 746.5L360.3 746.4L360.8 746.3L361.3 746.2L361.8 746.1L362.3 746.0L362.8 745.9L363.3 745.8L363.8 745.7L364.3 745.6L364.8 745.5L365.3 745.4L365.8 745.3L366.3 745.2L366.8 745.2L367.3 745.1L367.8 745.0L368.3 744.9L368.8 744.8L369.3 744.7L369.8 744.6L370.3 744.5L370.8 744.4L371.3 744.4L371.8 744.3L372.3 744.2L372.8 744.1L373.3 744.0L373.8 743.9L374.3 743.9L374.8 743.8L375.3 743.7L375.8 743.6L376.3 743.5L376.8 743.5L377.3 743.4L377.8 743.3L378.3 743.2L378.8 743.2L379.3 743.1L379.8 743.0L380.3 742.9L380.8 742.9L381.3 742.8L381.8 742.7L382.3 742.7L382.8 742.6L383.3 742.5L383.8 742.4L384.3 742.4L384.8 742.3L385.3 742.2L385.8 742.2L386.3 742.1L386.8 742.0L387.3 742.0L387.8 741.9L388.3 741.9L388.8 741.8L389.3 741.7L389.8 741.7L390.3 741.6L390.8 741.5L391.3 741.5L391.8 741.4L392.3 741.4L392.8 741.3L393.3 741.2L393.8 741.2L394.3 741.1L394.8 741.1L395.3 741.0L395.8 740.9L396.3 740.9L396.8 740.8L397.3 740.8L397.8 740.7L398.3 740.7L398.8 740.6L399.3 740.5L399.8 740.5L400.3 740.4L400.8 740.4L401.3 740.3L401.8 740.3L402.3 740.2L402.8 740.2L403.3 740.1L403.8 740.1L404.3 740.0L404.8 740.0L405.3 739.9L405.8 739.9L406.3 739.8L406.8 739.8L407.3 739.7L407.8 739.7L408.3 739.6L408.8 739.6L409.3 739.5L409.8 739.5L410.3 739.4L410.8 739.4L411.3 739.3L411.8 739.3L412.3 739.2L412.8 739.2L413.3 739.1L413.8 739.1L414.3 739.1L414.8 739.0L415.3 739.0L415.8 738.9L416.3 738.9L416.8 738.8L417.3 738.8L417.8 738.7L418.3 738.7L418.8 738.7L419.3 738.6L420.0 738.6L428.0 737.9L436.0 737.3L444.0 736.8L452.0 736.2L460.0 735.8L468.0 735.3L476.0 734.9L484.0 734.5L492.0 734.2L500.0 733.8L508.0 733.5L516.0 733.2L524.0 732.9L532.0 732.6L540.0 732.4L548.0 732.1L556.0 731.9L564.0 731.6L572.0 731.4L580.0 731.2L588.0 731.0L596.0 730.8L604.0 730.6L612.0 730.5L620.0 730.3L628.0 730.1L636.0 730.0L644.0 729.8L652.0 729.6L660.0 729.5L668.0 729.4L676.0 729.2L684.0 729.1L692.0 729.0L700.0 728.8L708.0 728.7L716.0 728.6L724.0 728.5L732.0 728.4L740.0 728.3L748.0 728.2L756.0 728.1L764.0 728.0L772.0 727.9L780.0 727.8L788.0 727.7L796.0 727.6L804.0 727.5L812.0 727.4L820.0 727.3L828.0 727.2L836.0 727.2L844.0 727.1L852.0 727.0L860.0 726.9L868.0 726.9L876.0 726.8L884.0 726.7L892.0 726.6L900.0 726.6L908.0 726.5L916.0 726.4L924.0 726.4L932.0 726.3L940.0 726.2L948.0 726.2L956.0 726.1L964.0 726.1L972.0 726.0L980.0 726.0L988.0 725.9L996.0 725.8L1004.0 725.8L1012.0 725.7L1020.0 725.7L1028.0 725.6L1036.0 725.6L1044.0 725.5L1052.0 725.5L1060.0 725.4L1068.0 725.4L1076.0 725.3L1084.0 725.3L1092.0 725.2L1100.0 725.2L1108.0 725.2L1116.0 725.1L1124.0 725.1L1132.0 725.0L1140.0 725.0L1148.0 724.9L1156.0 724.9L1164.0 724.9L1172.0 724.8L1180.0 724.8L1188.0 724.8L1196.0 724.7L1204.0 724.7L1212.0 724.6L1220.0 724.6L1228.0 724.6L1236.0 724.5L1244.0 724.5L1252.0 724.5L1260.0 724.4L1268.0 724.4L1276.0 724.4L1284.0 724.3L1292.0 724.3L1300.0 724.3L1308.0 724.2L1316.0 724.2L1324.0 724.2L1332.0 724.1L1340.0 724.1L1348.0 724.1L1356.0 724.0L1364.0 724.0L1372.0 724.0L1380.0 724.0L1388.0 723.9L1396.0 723.9L1404.0 723.9L1412.0 723.9L1420.0 723.8L1428.0 723.8L1436.0 723.8L1444.0 723.7L1452.0 723.7L1460.0 723.7L1468.0 723.7L1476.0 723.6L1484.0 723.6L1492.0 723.6L1500.0 723.6L1508.0 723.5L1516.0 723.5L1524.0 723.5L1532.0 723.5L1540.0 723.4L1548.0 723.4L1556.0 723.4L1564.0 723.4L1572.0 723.4L1580.0 723.3L1588.0 723.3L1596.0 723.3L1604.0 723.3L1612.0 723.2L1620.0 723.2L1628.0 723.2L1636.0 723.2L1644.0 723.2L1652.0 723.1L1660.0 723.1L1668.0 723.1L1676.0 723.1L1684.0 723.1L1692.0 723.0L1700.0 723.0L1708.0 723.0L1716.0 723.0L1724.0 723.0L1732.0 723.0L1740.0 722.9L1748.0 722.9L1756.0 722.9L1764.0 722.9L1772.0 722.9L1780.0 722.8L1788.0 722.8L1796.0 722.8L1804.0 722.8L1812.0 722.8L1820.0 722.8L1828.0 722.7L1836.0 722.7L1844.0 722.7L1852.0 722.7L1860.0 722.7L1868.0 722.7L1876.0 722.6L1884.0 722.6L1892.0 722.6L1900.0 722.6L1908.0 722.6L1916.0 722.6L1924.0 722.5L1932.0 722.5L1940.0 722.5L1948.0 722.5L1956.0 722.5L1964.0 722.5L1972.0 722.5L1980.0 722.4L1988.0 722.4L1996.0 722.4L2004.0 722.4" stroke="#0000ff" stroke-width="3" fill="none" stroke-linejoin="round"/>
<g fill="#0000ff"><circle cx="294.8" cy="1468.7" r="16"/><circle cx="414.9" cy="739.0" r="16"/><circle cx="537.2" cy="732.5" r="16"/><circle cx="659.4" cy="729.5" r="16"/><circle cx="781.7" cy="727.7" r="16"/><circle cx="903.9" cy="726.5" r="16"/><circle cx="1026.2" cy="725.6" r="16"/><circle cx="1148.4" cy="724.9" r="16"/><circle cx="1270.6" cy="724.4" r="16"/><circle cx="1392.9" cy="723.9" r="16"/><circle cx="1515.1" cy="723.5" r="16"/><circle cx="1637.4" cy="723.2" r="16"/><circle cx="1759.6" cy="722.9" r="16"/><circle cx="1881.9" cy="722.6" r="16"/></g>
<path d="M294.3 1528.0L294.8 1396.0L295.3 1298.4L295.8 1196.9L296.3 1161.6L296.8 1136.9L297.3 1112.0L297.8 1087.1L298.3 1070.1L298.8 1056.4L299.3 1042.7L299.8 1028.9L300.3 1017.2L300.8 1010.5L301.3 1003.9L301.8 997.4L302.3 990.8L302.8 984.2L303.3 977.6L303.8 971.0L304.3 964.4L304.8 957.8L305.3 951.2L305.8 944.6L306.3 940.1L306.8 935.8L307.3 931.5L307.8 927.2L308.3 922.9L308.8 918.6L309.3 914.3L309.8 910.0L310.3 905.7L310.8 901.4L311.3 897.1L311.8 893.1L312.3 889.7L312.8 886.3L313.3 883.0L313.8 879.6L314.3 876.2L314.8 872.8L315.3 869.5L315.8 866.1L316.3 862.7L316.8 859.4L317.3 856.0L317.8 852.6L318.3 849.2L318.8 845.9L319.3 842.5L319.8 839.2L320.3 836.3L320.8 833.4L321.3 830.5L321.8 827.6L322.3 824.6L322.8 821.7L323.3 818.8L323.8 815.9L324.3 813.0L324.8 810.1L325.3 807.5L325.8 805.0L326.3 802.5L326.8 800.0L327.3 797.4L327.8 794.9L328.3 792.4L328.8 789.9L329.3 787.4L329.8 784.9L330.3 782.4L330.8 779.9L331.3 777.9L331.8 775.9L332.3 773.9L332.8 771.9L333.3 770.0L333.8 768.1L334.3 766.3L334.8 764.6L335.3 763.0L335.8 761.6L336.3 760.3L336.8 759.1L337.3 758.1L337.8 757.2L338.3 756.5L338.8 755.8L339.3 755.3L339.8 754.9L340.3 754.5L340.8 754.2L341.3 753.9L341.8 753.6L342.3 753.4L342.8 753.2L343.3 753.0L343.8 752.8L344.3 752.6L344.8 752.5L345.3 752.3L345.8 752.1L346.3 752.0L346.8 751.8L347.3 751.7L347.8 751.5L348.3 751.4L348.8 751.2L349.3 751.1L349.8 751.0L350.3 750.8L350.8 750.7L351.3 750.5L351.8 750.4L352.3 750.3L352.8 750.2L353.3 750.0L353.8 749.9L354.3 749.8L354.8 749.6L355.3 749.5L355.8 749.4L356.3 749.3L356.8 749.2L357.3 749.0L357.8 748.9L358.3 748.8L358.8 748.7L359.3 748.6L359.8 748.5L360.3 748.4L360.8 748.3L361.3 748.1L361.8 748.0L362.3 747.9L362.8 747.8L363.3 747.7L363.8 747.6L364.3 747.5L364.8 747.4L365.3 747.3L365.8 747.2L366.3 747.1L366.8 747.0L367.3 746.9L367.8 746.8L368.3 746.7L368.8 746.6L369.3 746.6L369.8 746.5L370.3 746.4L370.8 746.3L371.3 746.2L371.8 746.1L372.3 746.0L372.8 745.9L373.3 745.8L373.8 745.8L374.3 745.7L374.8 745.6L375.3 745.5L375.8 745.4L376.3 745.3L376.8 745.3L377.3 745.2L377.8 745.1L378.3 745.0L378.8 744.9L379.3 744.9L379.8 744.8L380.3 744.7L380.8 744.6L381.3 744.6L381.8 744.5L382.3 744.4L382.8 744.3L383.3 744.3L383.8 744.2L384.3 744.1L384.8 744.0L385.3 744.0L385.8 743.9L386.3 743.8L386.8 743.8L387.3 743.7L387.8 743.6L388.3 743.6L388.8 743.5L389.3 743.4L389.8 743.4L390.3 743.3L390.8 743.2L391.3 743.2L391.8 743.1L392.3 743.0L392.8 743.0L393.3 742.9L393.8 742.9L394.3 742.8L394.8 742.7L395.3 742.7L395.8 742.6L396.3 742.6L396.8 742.5L397.3 742.4L397.8 742.4L398.3 742.3L398.8 742.3L399.3 742.2L399.8 742.1L400.3 742.1L400.8 742.0L401.3 742.0L401.8 741.9L402.3 741.9L402.8 741.8L403.3 741.8L403.8 741.7L404.3 741.6L404.8 741.6L405.3 741.5L405.8 741.5L406.3 741.4L406.8 741.4L407.3 741.3L407.8 741.3L408.3 741.2L408.8 741.2L409.3 741.1L409.8 741.1L410.3 741.0L410.8 741.0L411.3 740.9L411.8 740.9L412.3 740.8L412.8 740.8L413.3 740.7L413.8 740.7L414.3 740.6L414.8 740.6L415.3 740.5L415.8 740.5L416.3 740.4L416.8 740.4L417.3 740.4L417.8 740.3L418.3 740.3L418.8 740.2L419.3 740.2L420.0 740.1L428.0 739.4L436.0 738.8L444.0 738.2L452.0 737.7L460.0 737.2L468.0 736.7L476.0 736.3L484.0 735.9L492.0 735.5L500.0 735.2L508.0 734.8L516.0 734.5L524.0 734.2L532.0 733.9L540.0 733.6L548.0 733.4L556.0 733.1L564.0 732.9L572.0 732.7L580.0 732.4L588.0 732.2L596.0 732.0L604.0 731.8L612.0 731.6L620.0 731.5L628.0 731.3L636.0 731.1L644.0 730.9L652.0 730.8L660.0 730.6L668.0 730.5L676.0 730.3L684.0 730.2L692.0 730.1L700.0 729.9L708.0 729.8L716.0 729.7L724.0 729.6L732.0 729.5L740.0 729.3L748.0 729.2L756.0 729.1L764.0 729.0L772.0 728.9L780.0 728.8L788.0 728.7L796.0 728.6L804.0 728.5L812.0 728.4L820.0 728.4L828.0 728.3L836.0 728.2L844.0 728.1L852.0 728.0L860.0 727.9L868.0 727.9L876.0 727.8L884.0 727.7L892.0 727.6L900.0 727.6L908.0 727.5L916.0 727.4L924.0 727.4L932.0 727.3L940.0 727.2L948.0 727.2L956.0 727.1L964.0 727.0L972.0 727.0L980.0 726.9L988.0 726.9L996.0 726.8L1004.0 726.7L1012.0 726.7L1020.0 726.6L1028.0 726.6L1036.0 726.5L1044.0 726.5L1052.0 726.4L1060.0 726.4L1068.0 726.3L1076.0 726.3L1084.0 726.2L1092.0 726.2L1100.0 726.1L1108.0 726.1L1116.0 726.0L1124.0 726.0L1132.0 726.0L1140.0 725.9L1148.0 725.9L1156.0 725.8L1164.0 725.8L1172.0 725.7L1180.0 725.7L1188.0 725.7L1196.0 725.6L1204.0 725.6L1212.0 725.5L1220.0 725.5L1228.0 725.5L1236.0 725.4L1244.0 725.4L1252.0 725.4L1260.0 725.3L1268.0 725.3L1276.0 725.3L1284.0 725.2L1292.0 725.2L1300.0 725.2L1308.0 725.1L1316.0 725.1L1324.0 725.1L1332.0 725.0L1340.0 725.0L1348.0 725.0L1356.0 724.9L1364.0 724.9L1372.0 724.9L1380.0 724.8L1388.0 724.8L1396.0 724.8L1404.0 724.7L1412.0 724.7L1420.0 724.7L1428.0 724.7L1436.0 724.6L1444.0 724.6L1452.0 724.6L1460.0 724.6L1468.0 724.5L1476.0 724.5L1484.0 724.5L1492.0 724.4L1500.0 724.4L1508.0 724.4L1516.0 724.4L1524.0 724.3L1532.0 724.3L1540.0 724.3L1548.0 724.3L1556.0 724.3L1564.0 724.2L1572.0 724.2L1580.0 724.2L1588.0 724.2L1596.0 724.1L1604.0 724.1L1612.0 724.1L1620.0 724.1L1628.0 724.0L1636.0 724.0L1644.0 724.0L1652.0 724.0L1660.0 724.0L1668.0 723.9L1676.0 723.9L1684.0 723.9L1692.0 723.9L1700.0 723.9L1708.0 723.8L1716.0 723.8L1724.0 723.8L1732.0 723.8L1740.0 723.8L1748.0 723.7L1756.0 723.7L1764.0 723.7L1772.0 723.7L1780.0 723.7L1788.0 723.6L1796.0 723.6L1804.0 723.6L1812.0 723.6L1820.0 723.6L1828.0 723.6L1836.0 723.5L1844.0 723.5L1852.0 723.5L1860.0 723.5L1868.0 723.5L1876.0 723.4L1884.0 723.4L1892.0 723.4L1900.0 723.4L1908.0 723.4L1916.0 723.4L1924.0 723.3L1932.0 723.3L1940.0 723.3L1948.0 723.3L1956.0 723.3L1964.0 723.3L1972.0 723.3L1980.0 723.2L1988.0 723.2L1996.0 723.2L2004.0 723.2" stroke="#0000ff" stroke-width="3" fill="none" stroke-linejoin="round"/>
<g fill="#0000ff"><rect x="399.9" y="725.6" width="30" height="30"/><rect x="522.2" y="718.7" width="30" height="30"/><rect x="644.4" y="715.6" width="30" height="30"/><rect x="766.7" y="713.8" width="30" height="30"/><rect x="888.9" y="712.5" width="30" height="30"/><rect x="1011.2" y="711.6" width="30" height="30"/><rect x="1133.4" y="710.9" width="30" height="30"/><rect x="1255.6" y="710.3" width="30" height="30"/><rect x="1377.9" y="709.8" width="30" height="30"/><rect x="1500.1" y="709.4" width="30" height="30"/><rect x="1622.4" y="709.0" width="30" height="30"/><rect x="1744.6" y="708.7" width="30" height="30"/><rect x="1866.9" y="708.4" width="30" height="30"/></g>
<path d="M294.3 1528.0L294.8 1418.4L295.3 1347.6L295.8 1295.0L296.3 1231.5L296.8 1176.5L297.3 1156.7L297.8 1137.2L298.3 1117.5L298.8 1096.3L299.3 1077.4L299.8 1065.6L300.3 1053.9L300.8 1041.7L301.3 1029.2L301.8 1017.9L302.3 1011.8L302.8 1005.8L303.3 999.7L303.8 993.6L304.3 987.6L304.8 981.5L305.3 975.5L305.8 969.4L306.3 963.4L306.8 957.2L307.3 951.0L307.8 944.8L308.3 940.5L308.8 936.5L309.3 932.4L309.8 928.4L310.3 924.3L310.8 920.3L311.3 916.2L311.8 912.2L312.3 908.2L312.8 904.1L313.3 900.0L313.8 895.9L314.3 892.3L314.8 889.1L315.3 885.9L315.8 882.7L316.3 879.5L316.8 876.3L317.3 873.1L317.8 869.9L318.3 866.7L318.8 863.5L319.3 860.3L319.8 857.1L320.3 853.9L320.8 850.6L321.3 847.4L321.8 844.2L322.3 841.0L322.8 838.1L323.3 835.3L323.8 832.5L324.3 829.7L324.8 827.0L325.3 824.2L325.8 821.4L326.3 818.6L326.8 815.8L327.3 813.0L327.8 810.2L328.3 807.8L328.8 805.4L329.3 803.0L329.8 800.6L330.3 798.2L330.8 795.8L331.3 793.4L331.8 791.0L332.3 788.6L332.8 786.3L333.3 784.0L333.8 781.8L334.3 779.9L334.8 778.2L335.3 776.6L335.8 775.1L336.3 773.7L336.8 772.5L337.3 771.4L337.8 770.5L338.3 769.7L338.8 769.0L339.3 768.5L339.8 768.0L340.3 767.7L340.8 767.4L341.3 767.1L341.8 766.9L342.3 766.7L342.8 766.5L343.3 766.3L343.8 766.2L344.3 766.1L344.8 765.9L345.3 765.8L345.8 765.7L346.3 765.6L346.8 765.5L347.3 765.4L347.8 765.3L348.3 765.2L348.8 765.1L349.3 765.0L349.8 764.9L350.3 764.8L350.8 764.7L351.3 764.6L351.8 764.5L352.3 764.4L352.8 764.3L353.3 764.2L353.8 764.1L354.3 764.1L354.8 764.0L355.3 763.9L355.8 763.8L356.3 763.7L356.8 763.6L357.3 763.6L357.8 763.5L358.3 763.4L358.8 763.3L359.3 763.2L359.8 763.2L360.3 763.1L360.8 763.0L361.3 762.9L361.8 762.9L362.3 762.8L362.8 762.7L363.3 762.6L363.8 762.6L364.3 762.5L364.8 762.4L365.3 762.4L365.8 762.3L366.3 762.2L366.8 762.2L367.3 762.1L367.8 762.0L368.3 762.0L368.8 761.9L369.3 761.8L369.8 761.8L370.3 761.7L370.8 761.6L371.3 761.6L371.8 761.5L372.3 761.5L372.8 761.4L373.3 761.3L373.8 761.3L374.3 761.2L374.8 761.2L375.3 761.1L375.8 761.1L376.3 761.0L376.8 760.9L377.3 760.9L377.8 760.8L378.3 760.8L378.8 760.7L379.3 760.7L379.8 760.6L380.3 760.6L380.8 760.5L381.3 760.5L381.8 760.4L382.3 760.4L382.8 760.3L383.3 760.3L383.8 760.2L384.3 760.2L384.8 760.1L385.3 760.1L385.8 760.0L386.3 760.0L386.8 759.9L387.3 759.9L387.8 759.8L388.3 759.8L388.8 759.7L389.3 759.7L389.8 759.6L390.3 759.6L390.8 759.5L391.3 759.5L391.8 759.5L392.3 759.4L392.8 759.4L393.3 759.3L393.8 759.3L394.3 759.2L394.8 759.2L395.3 759.2L395.8 759.1L396.3 759.1L396.8 759.0L397.3 759.0L397.8 758.9L398.3 758.9L398.8 758.9L399.3 758.8L399.8 758.8L400.3 758.8L400.8 758.7L401.3 758.7L401.8 758.6L402.3 758.6L402.8 758.6L403.3 758.5L403.8 758.5L404.3 758.4L404.8 758.4L405.3 758.4L405.8 758.3L406.3 758.3L406.8 758.3L407.3 758.2L407.8 758.2L408.3 758.2L408.8 758.1L409.3 758.1L409.8 758.1L410.3 758.0L410.8 758.0L411.3 757.9L411.8 757.9L412.3 757.9L412.8 757.8L413.3 757.8L413.8 757.8L414.3 757.7L414.8 757.7L415.3 757.7L415.8 757.7L416.3 757.6L416.8 757.6L417.3 757.6L417.8 757.5L418.3 757.5L418.8 757.5L419.3 757.4L420.0 757.4L428.0 756.9L436.0 756.5L444.0 756.1L452.0 755.7L460.0 755.4L468.0 755.1L476.0 754.8L484.0 754.5L492.0 754.2L500.0 754.0L508.0 753.7L516.0 753.5L524.0 753.3L532.0 753.1L540.0 752.9L548.0 752.7L556.0 752.6L564.0 752.4L572.0 752.2L580.0 752.1L588.0 751.9L596.0 751.8L604.0 751.7L612.0 751.5L620.0 751.4L628.0 751.3L636.0 751.2L644.0 751.1L652.0 750.9L660.0 750.8L668.0 750.7L676.0 750.6L684.0 750.5L692.0 750.5L700.0 750.4L708.0 750.3L716.0 750.2L724.0 750.1L732.0 750.0L740.0 749.9L748.0 749.9L756.0 749.8L764.0 749.7L772.0 749.7L780.0 749.6L788.0 749.5L796.0 749.5L804.0 749.4L812.0 749.3L820.0 749.3L828.0 749.2L836.0 749.1L844.0 749.1L852.0 749.0L860.0 749.0L868.0 748.9L876.0 748.9L884.0 748.8L892.0 748.8L900.0 748.7L908.0 748.7L916.0 748.6L924.0 748.6L932.0 748.5L940.0 748.5L948.0 748.4L956.0 748.4L964.0 748.4L972.0 748.3L980.0 748.3L988.0 748.2L996.0 748.2L1004.0 748.2L1012.0 748.1L1020.0 748.1L1028.0 748.0L1036.0 748.0L1044.0 748.0L1052.0 747.9L1060.0 747.9L1068.0 747.9L1076.0 747.8L1084.0 747.8L1092.0 747.8L1100.0 747.7L1108.0 747.7L1116.0 747.7L1124.0 747.6L1132.0 747.6L1140.0 747.6L1148.0 747.5L1156.0 747.5L1164.0 747.5L1172.0 747.5L1180.0 747.4L1188.0 747.4L1196.0 747.4L1204.0 747.3L1212.0 747.3L1220.0 747.3L1228.0 747.3L1236.0 747.2L1244.0 747.2L1252.0 747.2L1260.0 747.2L1268.0 747.1L1276.0 747.1L1284.0 747.1L1292.0 747.1L1300.0 747.0L1308.0 747.0L1316.0 747.0L1324.0 747.0L1332.0 747.0L1340.0 746.9L1348.0 746.9L1356.0 746.9L1364.0 746.9L1372.0 746.9L1380.0 746.8L1388.0 746.8L1396.0 746.8L1404.0 746.8L1412.0 746.8L1420.0 746.7L1428.0 746.7L1436.0 746.7L1444.0 746.7L1452.0 746.7L1460.0 746.6L1468.0 746.6L1476.0 746.6L1484.0 746.6L1492.0 746.6L1500.0 746.5L1508.0 746.5L1516.0 746.5L1524.0 746.5L1532.0 746.5L1540.0 746.5L1548.0 746.4L1556.0 746.4L1564.0 746.4L1572.0 746.4L1580.0 746.4L1588.0 746.4L1596.0 746.3L1604.0 746.3L1612.0 746.3L1620.0 746.3L1628.0 746.3L1636.0 746.3L1644.0 746.3L1652.0 746.2L1660.0 746.2L1668.0 746.2L1676.0 746.2L1684.0 746.2L1692.0 746.2L1700.0 746.2L1708.0 746.1L1716.0 746.1L1724.0 746.1L1732.0 746.1L1740.0 746.1L1748.0 746.1L1756.0 746.1L1764.0 746.0L1772.0 746.0L1780.0 746.0L1788.0 746.0L1796.0 746.0L1804.0 746.0L1812.0 746.0L1820.0 746.0L1828.0 745.9L1836.0 745.9L1844.0 745.9L1852.0 745.9L1860.0 745.9L1868.0 745.9L1876.0 745.9L1884.0 745.9L1892.0 745.8L1900.0 745.8L1908.0 745.8L1916.0 745.8L1924.0 745.8L1932.0 745.8L1940.0 745.8L1948.0 745.8L1956.0 745.8L1964.0 745.7L1972.0 745.7L1980.0 745.7L1988.0 745.7L1996.0 745.7L2004.0 745.7" stroke="#00ffff" stroke-width="3" fill="none" stroke-linejoin="round"/>
<g fill="#00ffff"><circle cx="296.5" cy="1218.7" r="16"/><circle cx="414.9" cy="757.7" r="16"/><circle cx="537.2" cy="753.0" r="16"/><circle cx="659.4" cy="750.8" r="16"/><circle cx="781.7" cy="749.6" r="16"/><circle cx="903.9" cy="748.7" r="16"/><circle cx="1026.2" cy="748.0" r="16"/><circle cx="1148.4" cy="747.5" r="16"/><circle cx="1270.6" cy="747.1" r="16"/><circle cx="1392.9" cy="746.8" r="16"/><circle cx="1515.1" cy="746.5" r="16"/><circle cx="1637.4" cy="746.3" r="16"/><circle cx="1759.6" cy="746.1" r="16"/><circle cx="1881.9" cy="745.9" r="16"/></g>
<path d="M294.3 1528.0L294.8 1437.7L295.3 1386.9L295.8 1373.5L296.3 1337.6L296.8 1275.9L297.3 1216.1L297.8 1177.2L298.3 1161.6L298.8 1143.1L299.3 1124.8L299.8 1106.6L300.3 1088.6L300.8 1073.8L301.3 1062.1L301.8 1050.5L302.3 1038.8L302.8 1027.2L303.3 1017.4L303.8 1011.7L304.3 1006.1L304.8 1000.5L305.3 994.8L305.8 989.2L306.3 983.7L306.8 977.8L307.3 971.9L307.8 966.0L308.3 960.1L308.8 954.3L309.3 948.4L309.8 943.0L310.3 939.2L310.8 935.4L311.3 931.5L311.8 927.7L312.3 923.8L312.8 919.9L313.3 916.0L313.8 912.1L314.3 908.2L314.8 904.3L315.3 900.4L315.8 896.5L316.3 892.9L316.8 889.8L317.3 886.7L317.8 883.7L318.3 880.6L318.8 877.6L319.3 874.5L319.8 871.4L320.3 868.4L320.8 865.3L321.3 862.2L321.8 859.1L322.3 856.0L322.8 852.9L323.3 849.8L323.8 846.7L324.3 843.6L324.8 840.6L325.3 837.8L325.8 835.1L326.3 832.4L326.8 829.7L327.3 827.0L327.8 824.4L328.3 821.7L328.8 819.0L329.3 816.3L329.8 813.7L330.3 811.1L330.8 808.7L331.3 806.5L331.8 804.3L332.3 802.1L332.8 800.0L333.3 798.0L333.8 796.2L334.3 794.5L334.8 793.0L335.3 791.6L335.8 790.4L336.3 789.5L336.8 788.7L337.3 788.1L337.8 787.6L338.3 787.1L338.8 786.7L339.3 786.4L339.8 786.1L340.3 785.8L340.8 785.6L341.3 785.3L341.8 785.1L342.3 784.9L342.8 784.7L343.3 784.5L343.8 784.3L344.3 784.1L344.8 784.0L345.3 783.8L345.8 783.6L346.3 783.4L346.8 783.3L347.3 783.1L347.8 783.0L348.3 782.8L348.8 782.6L349.3 782.5L349.8 782.3L350.3 782.2L350.8 782.0L351.3 781.9L351.8 781.8L352.3 781.6L352.8 781.5L353.3 781.3L353.8 781.2L354.3 781.1L354.8 780.9L355.3 780.8L355.8 780.7L356.3 780.5L356.8 780.4L357.3 780.3L357.8 780.1L358.3 780.0L358.8 779.9L359.3 779.8L359.8 779.7L360.3 779.5L360.8 779.4L361.3 779.3L361.8 779.2L362.3 779.1L362.8 779.0L363.3 778.8L363.8 778.7L364.3 778.6L364.8 778.5L365.3 778.4L365.8 778.3L366.3 778.2L366.8 778.1L367.3 778.0L367.8 777.9L368.3 777.8L368.8 777.7L369.3 777.6L369.8 777.5L370.3 777.4L370.8 777.3L371.3 777.2L371.8 777.1L372.3 777.0L372.8 776.9L373.3 776.8L373.8 776.7L374.3 776.6L374.8 776.5L375.3 776.5L375.8 776.4L376.3 776.3L376.8 776.2L377.3 776.1L377.8 776.0L378.3 775.9L378.8 775.9L379.3 775.8L379.8 775.7L380.3 775.6L380.8 775.5L381.3 775.4L381.8 775.4L382.3 775.3L382.8 775.2L383.3 775.1L383.8 775.0L384.3 775.0L384.8 774.9L385.3 774.8L385.8 774.7L386.3 774.7L386.8 774.6L387.3 774.5L387.8 774.4L388.3 774.4L388.8 774.3L389.3 774.2L389.8 774.2L390.3 774.1L390.8 774.0L391.3 773.9L391.8 773.9L392.3 773.8L392.8 773.7L393.3 773.7L393.8 773.6L394.3 773.5L394.8 773.5L395.3 773.4L395.8 773.3L396.3 773.3L396.8 773.2L397.3 773.1L397.8 773.1L398.3 773.0L398.8 773.0L399.3 772.9L399.8 772.8L400.3 772.8L400.8 772.7L401.3 772.7L401.8 772.6L402.3 772.5L402.8 772.5L403.3 772.4L403.8 772.4L404.3 772.3L404.8 772.2L405.3 772.2L405.8 772.1L406.3 772.1L406.8 772.0L407.3 772.0L407.8 771.9L408.3 771.8L408.8 771.8L409.3 771.7L409.8 771.7L410.3 771.6L410.8 771.6L411.3 771.5L411.8 771.5L412.3 771.4L412.8 771.4L413.3 771.3L413.8 771.3L414.3 771.2L414.8 771.2L415.3 771.1L415.8 771.1L416.3 771.0L416.8 771.0L417.3 770.9L417.8 770.9L418.3 770.8L418.8 770.8L419.3 770.7L420.0 770.6L428.0 769.9L436.0 769.2L444.0 768.6L452.0 768.0L460.0 767.5L468.0 767.0L476.0 766.5L484.0 766.1L492.0 765.7L500.0 765.3L508.0 764.9L516.0 764.6L524.0 764.3L532.0 764.0L540.0 763.7L548.0 763.4L556.0 763.1L564.0 762.8L572.0 762.6L580.0 762.4L588.0 762.1L596.0 761.9L604.0 761.7L612.0 761.5L620.0 761.3L628.0 761.1L636.0 760.9L644.0 760.8L652.0 760.6L660.0 760.4L668.0 760.3L676.0 760.1L684.0 760.0L692.0 759.8L700.0 759.7L708.0 759.5L716.0 759.4L724.0 759.3L732.0 759.2L740.0 759.0L748.0 758.9L756.0 758.8L764.0 758.7L772.0 758.6L780.0 758.5L788.0 758.4L796.0 758.3L804.0 758.2L812.0 758.1L820.0 758.0L828.0 757.9L836.0 757.8L844.0 757.7L852.0 757.6L860.0 757.5L868.0 757.4L876.0 757.3L884.0 757.3L892.0 757.2L900.0 757.1L908.0 757.0L916.0 757.0L924.0 756.9L932.0 756.8L940.0 756.7L948.0 756.7L956.0 756.6L964.0 756.5L972.0 756.5L980.0 756.4L988.0 756.3L996.0 756.3L1004.0 756.2L1012.0 756.2L1020.0 756.1L1028.0 756.0L1036.0 756.0L1044.0 755.9L1052.0 755.9L1060.0 755.8L1068.0 755.8L1076.0 755.7L1084.0 755.7L1092.0 755.6L1100.0 755.6L1108.0 755.5L1116.0 755.5L1124.0 755.4L1132.0 755.4L1140.0 755.3L1148.0 755.3L1156.0 755.2L1164.0 755.2L1172.0 755.1L1180.0 755.1L1188.0 755.1L1196.0 755.0L1204.0 755.0L1212.0 754.9L1220.0 754.9L1228.0 754.8L1236.0 754.8L1244.0 754.8L1252.0 754.7L1260.0 754.7L1268.0 754.7L1276.0 754.6L1284.0 754.6L1292.0 754.5L1300.0 754.5L1308.0 754.5L1316.0 754.4L1324.0 754.4L1332.0 754.4L1340.0 754.3L1348.0 754.3L1356.0 754.3L1364.0 754.2L1372.0 754.2L1380.0 754.2L1388.0 754.1L1396.0 754.1L1404.0 754.1L1412.0 754.0L1420.0 754.0L1428.0 754.0L1436.0 753.9L1444.0 753.9L1452.0 753.9L1460.0 753.9L1468.0 753.8L1476.0 753.8L1484.0 753.8L1492.0 753.7L1500.0 753.7L1508.0 753.7L1516.0 753.7L1524.0 753.6L1532.0 753.6L1540.0 753.6L1548.0 753.6L1556.0 753.5L1564.0 753.5L1572.0 753.5L1580.0 753.5L1588.0 753.4L1596.0 753.4L1604.0 753.4L1612.0 753.4L1620.0 753.3L1628.0 753.3L1636.0 753.3L1644.0 753.3L1652.0 753.2L1660.0 753.2L1668.0 753.2L1676.0 753.2L1684.0 753.2L1692.0 753.1L1700.0 753.1L1708.0 753.1L1716.0 753.1L1724.0 753.0L1732.0 753.0L1740.0 753.0L1748.0 753.0L1756.0 753.0L1764.0 752.9L1772.0 752.9L1780.0 752.9L1788.0 752.9L1796.0 752.9L1804.0 752.8L1812.0 752.8L1820.0 752.8L1828.0 752.8L1836.0 752.8L1844.0 752.7L1852.0 752.7L1860.0 752.7L1868.0 752.7L1876.0 752.7L1884.0 752.6L1892.0 752.6L1900.0 752.6L1908.0 752.6L1916.0 752.6L1924.0 752.6L1932.0 752.5L1940.0 752.5L1948.0 752.5L1956.0 752.5L1964.0 752.5L1972.0 752.5L1980.0 752.4L1988.0 752.4L1996.0 752.4L2004.0 752.4" stroke="#00ffff" stroke-width="3" fill="none" stroke-linejoin="round"/>
<g fill="#00ffff"><rect x="280.5" y="1234.0" width="30" height="31"/><rect x="402.8" y="755.9" width="30" height="30"/><rect x="525.1" y="748.7" width="30" height="30"/><rect x="647.3" y="745.4" width="30" height="30"/><rect x="769.6" y="743.4" width="30" height="30"/><rect x="891.8" y="742.0" width="30" height="30"/><rect x="1014.1" y="741.0" width="30" height="30"/><rect x="1136.3" y="740.3" width="30" height="30"/><rect x="1258.5" y="739.6" width="30" height="30"/><rect x="1380.8" y="739.1" width="30" height="30"/><rect x="1503.0" y="738.7" width="30" height="30"/><rect x="1625.3" y="738.3" width="30" height="30"/><rect x="1747.5" y="737.9" width="30" height="30"/><rect x="1869.8" y="737.6" width="30" height="30"/></g>
<path d="M294.3 1528.0L294.8 1386.0L295.3 1269.5L295.8 1172.2L296.3 1141.1L296.8 1113.6L297.3 1085.8L297.8 1067.5L298.3 1051.9L298.8 1037.1L299.3 1022.2L299.8 1013.3L300.3 1006.1L300.8 999.0L301.3 992.2L301.8 985.3L302.3 978.4L302.8 971.5L303.3 964.6L303.8 957.7L304.3 950.8L304.8 943.9L305.3 939.4L305.8 934.9L306.3 930.3L306.8 925.9L307.3 921.4L307.8 917.0L308.3 912.6L308.8 908.1L309.3 903.7L309.8 899.2L310.3 894.8L310.8 891.1L311.3 887.6L311.8 884.1L312.3 880.6L312.8 877.2L313.3 873.7L313.8 870.2L314.3 866.8L314.8 863.3L315.3 859.8L315.8 856.3L316.3 852.9L316.8 849.4L317.3 845.9L317.8 842.4L318.3 839.1L318.8 836.1L319.3 833.1L319.8 830.1L320.3 827.1L320.8 824.1L321.3 821.1L321.8 818.1L322.3 815.1L322.8 812.1L323.3 809.2L323.8 806.6L324.3 804.0L324.8 801.4L325.3 798.8L325.8 796.3L326.3 793.7L326.8 791.1L327.3 788.5L327.8 785.9L328.3 783.3L328.8 780.7L329.3 778.5L329.8 776.3L330.3 774.2L330.8 772.0L331.3 769.9L331.8 767.7L332.3 765.6L332.8 763.5L333.3 761.4L333.8 759.3L334.3 757.2L334.8 755.2L335.3 753.2L335.8 751.3L336.3 749.4L336.8 747.6L337.3 746.0L337.8 744.4L338.3 743.1L338.8 741.9L339.3 740.9L339.8 740.0L340.3 739.3L340.8 738.8L341.3 738.3L341.8 738.0L342.3 737.7L342.8 737.5L343.3 737.3L343.8 737.1L344.3 737.0L344.8 736.9L345.3 736.8L345.8 736.7L346.3 736.6L346.8 736.5L347.3 736.4L347.8 736.3L348.3 736.3L348.8 736.2L349.3 736.1L349.8 736.0L350.3 736.0L350.8 735.9L351.3 735.8L351.8 735.8L352.3 735.7L352.8 735.6L353.3 735.6L353.8 735.5L354.3 735.4L354.8 735.4L355.3 735.3L355.8 735.2L356.3 735.2L356.8 735.1L357.3 735.1L357.8 735.0L358.3 734.9L358.8 734.9L359.3 734.8L359.8 734.8L360.3 734.7L360.8 734.7L361.3 734.6L361.8 734.6L362.3 734.5L362.8 734.5L363.3 734.4L363.8 734.3L364.3 734.3L364.8 734.2L365.3 734.2L365.8 734.1L366.3 734.1L366.8 734.0L367.3 734.0L367.8 733.9L368.3 733.9L368.8 733.9L369.3 733.8L369.8 733.8L370.3 733.7L370.8 733.7L371.3 733.6L371.8 733.6L372.3 733.5L372.8 733.5L373.3 733.4L373.8 733.4L374.3 733.4L374.8 733.3L375.3 733.3L375.8 733.2L376.3 733.2L376.8 733.2L377.3 733.1L377.8 733.1L378.3 733.0L378.8 733.0L379.3 733.0L379.8 732.9L380.3 732.9L380.8 732.8L381.3 732.8L381.8 732.8L382.3 732.7L382.8 732.7L383.3 732.7L383.8 732.6L384.3 732.6L384.8 732.5L385.3 732.5L385.8 732.5L386.3 732.4L386.8 732.4L387.3 732.4L387.8 732.3L388.3 732.3L388.8 732.3L389.3 732.2L389.8 732.2L390.3 732.2L390.8 732.1L391.3 732.1L391.8 732.1L392.3 732.0L392.8 732.0L393.3 732.0L393.8 731.9L394.3 731.9L394.8 731.9L395.3 731.8L395.8 731.8L396.3 731.8L396.8 731.8L397.3 731.7L397.8 731.7L398.3 731.7L398.8 731.6L399.3 731.6L399.8 731.6L400.3 731.5L400.8 731.5L401.3 731.5L401.8 731.5L402.3 731.4L402.8 731.4L403.3 731.4L403.8 731.4L404.3 731.3L404.8 731.3L405.3 731.3L405.8 731.2L406.3 731.2L406.8 731.2L407.3 731.2L407.8 731.1L408.3 731.1L408.8 731.1L409.3 731.1L409.8 731.0L410.3 731.0L410.8 731.0L411.3 731.0L411.8 731.0L412.3 730.9L412.8 730.9L413.3 730.9L413.8 730.9L414.3 730.9L414.8 730.8L415.3 730.8L415.8 730.8L416.3 730.8L416.8 730.8L417.3 730.7L417.8 730.7L418.3 730.7L418.8 730.7L419.3 730.7L420.0 730.6L428.0 730.4L436.0 730.1L444.0 729.8L452.0 729.6L460.0 729.3L468.0 729.1L476.0 728.8L484.0 728.6L492.0 728.4L500.0 728.2L508.0 728.0L516.0 727.8L524.0 727.6L532.0 727.4L540.0 727.2L548.0 727.0L556.0 726.8L564.0 726.7L572.0 726.5L580.0 726.3L588.0 726.1L596.0 726.0L604.0 725.8L612.0 725.7L620.0 725.5L628.0 725.4L636.0 725.2L644.0 725.1L652.0 724.9L660.0 724.8L668.0 724.6L676.0 724.5L684.0 724.4L692.0 724.2L700.0 724.1L708.0 724.0L716.0 723.8L724.0 723.7L732.0 723.6L740.0 723.4L748.0 723.3L756.0 723.2L764.0 723.1L772.0 723.0L780.0 722.8L788.0 722.7L796.0 722.6L804.0 722.5L812.0 722.4L820.0 722.3L828.0 722.2L836.0 722.1L844.0 721.9L852.0 721.8L860.0 721.7L868.0 721.6L876.0 721.5L884.0 721.4L892.0 721.3L900.0 721.2L908.0 721.1L916.0 721.0L924.0 720.9L932.0 720.8L940.0 720.7L948.0 720.6L956.0 720.5L964.0 720.5L972.0 720.4L980.0 720.3L988.0 720.2L996.0 720.1L1004.0 720.0L1012.0 719.9L1020.0 719.8L1028.0 719.7L1036.0 719.6L1044.0 719.6L1052.0 719.5L1060.0 719.4L1068.0 719.3L1076.0 719.2L1084.0 719.1L1092.0 719.0L1100.0 719.0L1108.0 718.9L1116.0 718.8L1124.0 718.7L1132.0 718.6L1140.0 718.6L1148.0 718.5L1156.0 718.4L1164.0 718.3L1172.0 718.2L1180.0 718.2L1188.0 718.1L1196.0 718.0L1204.0 717.9L1212.0 717.9L1220.0 717.8L1228.0 717.7L1236.0 717.6L1244.0 717.6L1252.0 717.5L1260.0 717.4L1268.0 717.4L1276.0 717.3L1284.0 717.2L1292.0 717.1L1300.0 717.1L1308.0 717.0L1316.0 716.9L1324.0 716.9L1332.0 716.8L1340.0 716.7L1348.0 716.7L1356.0 716.6L1364.0 716.5L1372.0 716.5L1380.0 716.4L1388.0 716.3L1396.0 716.3L1404.0 716.2L1412.0 716.1L1420.0 716.1L1428.0 716.0L1436.0 715.9L1444.0 715.9L1452.0 715.8L1460.0 715.7L1468.0 715.7L1476.0 715.6L1484.0 715.5L1492.0 715.5L1500.0 715.4L1508.0 715.4L1516.0 715.3L1524.0 715.2L1532.0 715.2L1540.0 715.1L1548.0 715.1L1556.0 715.0L1564.0 714.9L1572.0 714.9L1580.0 714.8L1588.0 714.8L1596.0 714.7L1604.0 714.6L1612.0 714.6L1620.0 714.5L1628.0 714.5L1636.0 714.4L1644.0 714.3L1652.0 714.3L1660.0 714.2L1668.0 714.2L1676.0 714.1L1684.0 714.1L1692.0 714.0L1700.0 713.9L1708.0 713.9L1716.0 713.8L1724.0 713.8L1732.0 713.7L1740.0 713.7L1748.0 713.6L1756.0 713.6L1764.0 713.5L1772.0 713.5L1780.0 713.4L1788.0 713.3L1796.0 713.3L1804.0 713.2L1812.0 713.2L1820.0 713.1L1828.0 713.1L1836.0 713.0L1844.0 713.0L1852.0 712.9L1860.0 712.9L1868.0 712.8L1876.0 712.8L1884.0 712.7L1892.0 712.7L1900.0 712.6L1908.0 712.6L1916.0 712.5L1924.0 712.5L1932.0 712.4L1940.0 712.4L1948.0 712.3L1956.0 712.3L1964.0 712.2L1972.0 712.2L1980.0 712.1L1988.0 712.1L1996.0 712.0L2004.0 712.0" stroke="#ff00ff" stroke-width="3" fill="none" stroke-linejoin="round"/>
<g fill="#ff00ff"><circle cx="294.8" cy="1436.8" r="16"/><circle cx="414.9" cy="730.8" r="16"/><circle cx="537.2" cy="727.3" r="16"/><circle cx="659.4" cy="724.8" r="16"/><circle cx="781.7" cy="722.8" r="16"/><circle cx="903.9" cy="721.2" r="16"/><circle cx="1026.2" cy="719.7" r="16"/><circle cx="1148.4" cy="718.5" r="16"/><circle cx="1270.6" cy="717.3" r="16"/><circle cx="1392.9" cy="716.3" r="16"/><circle cx="1515.1" cy="715.3" r="16"/><circle cx="1637.4" cy="714.4" r="16"/><circle cx="1759.6" cy="713.5" r="16"/><circle cx="1881.9" cy="712.7" r="16"/></g>
<path d="M294.3 1528.0L294.8 1387.5L295.3 1273.9L295.8 1174.5L296.3 1144.2L296.8 1117.1L297.3 1089.7L297.8 1070.0L298.3 1054.6L298.8 1040.0L299.3 1025.3L299.8 1014.9L300.3 1007.7L300.8 1000.7L301.3 993.9L301.8 987.1L302.3 980.2L302.8 973.4L303.3 966.6L303.8 959.7L304.3 952.8L304.8 946.0L305.3 940.8L305.8 936.3L306.3 931.8L306.8 927.4L307.3 923.0L307.8 918.5L308.3 914.1L308.8 909.7L309.3 905.3L309.8 900.9L310.3 896.4L310.8 892.4L311.3 888.9L311.8 885.5L312.3 882.0L312.8 878.5L313.3 875.1L313.8 871.6L314.3 868.2L314.8 864.7L315.3 861.3L315.8 857.8L316.3 854.3L316.8 850.9L317.3 847.4L317.8 844.0L318.3 840.5L318.8 837.4L319.3 834.5L319.8 831.5L320.3 828.5L320.8 825.5L321.3 822.5L321.8 819.5L322.3 816.5L322.8 813.5L323.3 810.6L323.8 807.9L324.3 805.3L324.8 802.7L325.3 800.1L325.8 797.6L326.3 795.0L326.8 792.4L327.3 789.8L327.8 787.3L328.3 784.7L328.8 782.1L329.3 779.6L329.8 777.5L330.3 775.3L330.8 773.2L331.3 771.1L331.8 768.9L332.3 766.8L332.8 764.7L333.3 762.6L333.8 760.6L334.3 758.6L334.8 756.6L335.3 754.6L335.8 752.7L336.3 751.0L336.8 749.3L337.3 747.7L337.8 746.4L338.3 745.1L338.8 744.1L339.3 743.2L339.8 742.5L340.3 741.9L340.8 741.4L341.3 741.0L341.8 740.7L342.3 740.5L342.8 740.3L343.3 740.1L343.8 740.0L344.3 739.8L344.8 739.7L345.3 739.6L345.8 739.5L346.3 739.4L346.8 739.3L347.3 739.2L347.8 739.1L348.3 739.0L348.8 738.9L349.3 738.9L349.8 738.8L350.3 738.7L350.8 738.6L351.3 738.5L351.8 738.5L352.3 738.4L352.8 738.3L353.3 738.2L353.8 738.2L354.3 738.1L354.8 738.0L355.3 737.9L355.8 737.9L356.3 737.8L356.8 737.7L357.3 737.7L357.8 737.6L358.3 737.5L358.8 737.4L359.3 737.4L359.8 737.3L360.3 737.2L360.8 737.2L361.3 737.1L361.8 737.1L362.3 737.0L362.8 736.9L363.3 736.9L363.8 736.8L364.3 736.7L364.8 736.7L365.3 736.6L365.8 736.6L366.3 736.5L366.8 736.4L367.3 736.4L367.8 736.3L368.3 736.3L368.8 736.2L369.3 736.1L369.8 736.1L370.3 736.0L370.8 736.0L371.3 735.9L371.8 735.9L372.3 735.8L372.8 735.8L373.3 735.7L373.8 735.7L374.3 735.6L374.8 735.5L375.3 735.5L375.8 735.4L376.3 735.4L376.8 735.3L377.3 735.3L377.8 735.2L378.3 735.2L378.8 735.1L379.3 735.1L379.8 735.0L380.3 735.0L380.8 734.9L381.3 734.9L381.8 734.8L382.3 734.8L382.8 734.8L383.3 734.7L383.8 734.7L384.3 734.6L384.8 734.6L385.3 734.5L385.8 734.5L386.3 734.4L386.8 734.4L387.3 734.3L387.8 734.3L388.3 734.3L388.8 734.2L389.3 734.2L389.8 734.1L390.3 734.1L390.8 734.0L391.3 734.0L391.8 733.9L392.3 733.9L392.8 733.9L393.3 733.8L393.8 733.8L394.3 733.7L394.8 733.7L395.3 733.7L395.8 733.6L396.3 733.6L396.8 733.5L397.3 733.5L397.8 733.5L398.3 733.4L398.8 733.4L399.3 733.3L399.8 733.3L400.3 733.3L400.8 733.2L401.3 733.2L401.8 733.1L402.3 733.1L402.8 733.1L403.3 733.0L403.8 733.0L404.3 733.0L404.8 732.9L405.3 732.9L405.8 732.8L406.3 732.8L406.8 732.8L407.3 732.7L407.8 732.7L408.3 732.7L408.8 732.6L409.3 732.6L409.8 732.6L410.3 732.5L410.8 732.5L411.3 732.5L411.8 732.5L412.3 732.5L412.8 732.5L413.3 732.4L413.8 732.4L414.3 732.4L414.8 732.4L415.3 732.4L415.8 732.4L416.3 732.4L416.8 732.4L417.3 732.4L417.8 732.4L418.3 732.3L418.8 732.3L419.3 732.3L420.0 732.3L428.0 732.1L436.0 732.0L444.0 731.8L452.0 731.7L460.0 731.5L468.0 731.3L476.0 731.2L484.0 731.0L492.0 730.8L500.0 730.7L508.0 730.5L516.0 730.3L524.0 730.2L532.0 730.0L540.0 729.8L548.0 729.6L556.0 729.4L564.0 729.1L572.0 728.8L580.0 728.4L588.0 728.0L596.0 727.6L604.0 727.1L612.0 726.7L620.0 726.2L628.0 725.7L636.0 725.2L644.0 724.7L652.0 724.2L660.0 723.7L668.0 723.1L676.0 722.6L684.0 722.1L692.0 721.7L700.0 721.2L708.0 720.7L716.0 720.3L724.0 719.9L732.0 719.6L740.0 719.3L748.0 719.0L756.0 718.7L764.0 718.5L772.0 718.3L780.0 718.2L788.0 718.1L796.0 718.0L804.0 717.9L812.0 717.8L820.0 717.7L828.0 717.6L836.0 717.5L844.0 717.4L852.0 717.3L860.0 717.2L868.0 717.1L876.0 717.0L884.0 716.9L892.0 716.8L900.0 716.7L908.0 716.6L916.0 716.6L924.0 716.5L932.0 716.4L940.0 716.3L948.0 716.3L956.0 716.2L964.0 716.1L972.0 716.0L980.0 716.0L988.0 715.9L996.0 715.8L1004.0 715.8L1012.0 715.7L1020.0 715.6L1028.0 715.6L1036.0 715.5L1044.0 715.4L1052.0 715.4L1060.0 715.3L1068.0 715.3L1076.0 715.2L1084.0 715.2L1092.0 715.1L1100.0 715.0L1108.0 715.0L1116.0 714.9L1124.0 714.9L1132.0 714.8L1140.0 714.8L1148.0 714.7L1156.0 714.7L1164.0 714.6L1172.0 714.6L1180.0 714.5L1188.0 714.5L1196.0 714.4L1204.0 714.4L1212.0 714.4L1220.0 714.3L1228.0 714.3L1236.0 714.2L1244.0 714.2L1252.0 714.1L1260.0 714.1L1268.0 714.1L1276.0 714.0L1284.0 714.0L1292.0 713.9L1300.0 713.9L1308.0 713.9L1316.0 713.8L1324.0 713.8L1332.0 713.7L1340.0 713.7L1348.0 713.7L1356.0 713.6L1364.0 713.6L1372.0 713.6L1380.0 713.5L1388.0 713.5L1396.0 713.5L1404.0 713.4L1412.0 713.4L1420.0 713.4L1428.0 713.3L1436.0 713.3L1444.0 713.3L1452.0 713.2L1460.0 713.2L1468.0 713.2L1476.0 713.1L1484.0 713.1L1492.0 713.1L1500.0 713.0L1508.0 713.0L1516.0 713.0L1524.0 712.9L1532.0 712.9L1540.0 712.9L1548.0 712.9L1556.0 712.8L1564.0 712.8L1572.0 712.8L1580.0 712.8L1588.0 712.7L1596.0 712.7L1604.0 712.7L1612.0 712.6L1620.0 712.6L1628.0 712.6L1636.0 712.6L1644.0 712.5L1652.0 712.5L1660.0 712.5L1668.0 712.5L1676.0 712.4L1684.0 712.4L1692.0 712.4L1700.0 712.4L1708.0 712.3L1716.0 712.3L1724.0 712.3L1732.0 712.3L1740.0 712.3L1748.0 712.2L1756.0 712.2L1764.0 712.2L1772.0 712.2L1780.0 712.1L1788.0 712.1L1796.0 712.1L1804.0 712.1L1812.0 712.1L1820.0 712.0L1828.0 712.0L1836.0 712.0L1844.0 712.0L1852.0 712.0L1860.0 711.9L1868.0 711.9L1876.0 711.9L1884.0 711.9L1892.0 711.9L1900.0 711.8L1908.0 711.8L1916.0 711.8L1924.0 711.8L1932.0 711.8L1940.0 711.7L1948.0 711.7L1956.0 711.7L1964.0 711.7L1972.0 711.7L1980.0 711.6L1988.0 711.6L1996.0 711.6L2004.0 711.6" stroke="#ff00ff" stroke-width="3" fill="none" stroke-linejoin="round"/>
<g fill="#ff00ff"><rect x="279" y="1498.5" width="30" height="31"/><rect x="399.9" y="717.4" width="30" height="30"/><rect x="522.2" y="714.9" width="30" height="30"/><rect x="644.4" y="708.7" width="30" height="30"/><rect x="766.7" y="703.2" width="30" height="30"/><rect x="888.9" y="701.7" width="30" height="30"/><rect x="1011.2" y="700.6" width="30" height="30"/><rect x="1133.4" y="699.7" width="30" height="30"/><rect x="1255.6" y="699.0" width="30" height="30"/><rect x="1377.9" y="698.5" width="30" height="30"/><rect x="1500.1" y="698.0" width="30" height="30"/><rect x="1622.4" y="697.6" width="30" height="30"/><rect x="1744.6" y="697.2" width="30" height="30"/><rect x="1866.9" y="696.9" width="30" height="30"/></g>
<path d="M294.3 1528.0L294.8 1378.6L295.3 1247.8L295.8 1160.9L296.3 1125.7L296.8 1096.1L297.3 1072.2L297.8 1055.1L298.3 1038.2L298.8 1022.6L299.3 1013.1L299.8 1005.4L300.3 997.7L300.8 990.4L301.3 983.3L301.8 976.2L302.3 969.1L302.8 962.0L303.3 954.9L303.8 947.7L304.3 941.8L304.8 937.1L305.3 932.4L305.8 927.7L306.3 923.0L306.8 918.5L307.3 913.9L307.8 909.4L308.3 904.8L308.8 900.3L309.3 895.7L309.8 891.8L310.3 888.2L310.8 884.6L311.3 881.0L311.8 877.4L312.3 873.8L312.8 870.3L313.3 866.7L313.8 863.2L314.3 859.7L314.8 856.1L315.3 852.6L315.8 849.0L316.3 845.5L316.8 841.9L317.3 838.6L317.8 835.5L318.3 832.5L318.8 829.4L319.3 826.3L319.8 823.2L320.3 820.2L320.8 817.1L321.3 814.1L321.8 811.0L322.3 808.2L322.8 805.6L323.3 802.9L323.8 800.3L324.3 797.6L324.8 795.0L325.3 792.3L325.8 789.7L326.3 787.1L326.8 784.4L327.3 781.8L327.8 779.3L328.3 777.1L328.8 774.9L329.3 772.7L329.8 770.5L330.3 768.3L330.8 766.2L331.3 764.0L331.8 761.8L332.3 759.6L332.8 757.5L333.3 755.3L333.8 753.2L334.3 751.1L334.8 749.0L335.3 746.9L335.8 744.9L336.3 742.9L336.8 741.1L337.3 739.3L337.8 737.6L338.3 736.1L338.8 734.8L339.3 733.6L339.8 732.7L340.3 731.9L340.8 731.2L341.3 730.7L341.8 730.3L342.3 730.0L342.8 729.7L343.3 729.5L343.8 729.4L344.3 729.2L344.8 729.1L345.3 729.0L345.8 728.9L346.3 728.8L346.8 728.7L347.3 728.6L347.8 728.5L348.3 728.5L348.8 728.4L349.3 728.3L349.8 728.3L350.3 728.2L350.8 728.1L351.3 728.1L351.8 728.0L352.3 727.9L352.8 727.9L353.3 727.8L353.8 727.7L354.3 727.7L354.8 727.6L355.3 727.6L355.8 727.5L356.3 727.5L356.8 727.4L357.3 727.3L357.8 727.3L358.3 727.2L358.8 727.2L359.3 727.1L359.8 727.1L360.3 727.0L360.8 727.0L361.3 726.9L361.8 726.9L362.3 726.8L362.8 726.8L363.3 726.7L363.8 726.7L364.3 726.6L364.8 726.6L365.3 726.5L365.8 726.5L366.3 726.4L366.8 726.4L367.3 726.3L367.8 726.3L368.3 726.2L368.8 726.2L369.3 726.2L369.8 726.1L370.3 726.1L370.8 726.0L371.3 726.0L371.8 725.9L372.3 725.9L372.8 725.9L373.3 725.8L373.8 725.8L374.3 725.7L374.8 725.7L375.3 725.7L375.8 725.6L376.3 725.6L376.8 725.5L377.3 725.5L377.8 725.5L378.3 725.4L378.8 725.4L379.3 725.3L379.8 725.3L380.3 725.3L380.8 725.2L381.3 725.2L381.8 725.2L382.3 725.1L382.8 725.1L383.3 725.1L383.8 725.0L384.3 725.0L384.8 725.0L385.3 724.9L385.8 724.9L386.3 724.9L386.8 724.8L387.3 724.8L387.8 724.8L388.3 724.7L388.8 724.7L389.3 724.7L389.8 724.6L390.3 724.6L390.8 724.6L391.3 724.5L391.8 724.5L392.3 724.5L392.8 724.4L393.3 724.4L393.8 724.4L394.3 724.4L394.8 724.3L395.3 724.3L395.8 724.3L396.3 724.2L396.8 724.2L397.3 724.2L397.8 724.2L398.3 724.1L398.8 724.1L399.3 724.1L399.8 724.0L400.3 724.0L400.8 724.0L401.3 724.0L401.8 723.9L402.3 723.9L402.8 723.9L403.3 723.9L403.8 723.8L404.3 723.8L404.8 723.8L405.3 723.8L405.8 723.7L406.3 723.7L406.8 723.7L407.3 723.7L407.8 723.6L408.3 723.6L408.8 723.6L409.3 723.6L409.8 723.5L410.3 723.5L410.8 723.5L411.3 723.5L411.8 723.4L412.3 723.4L412.8 723.4L413.3 723.4L413.8 723.3L414.3 723.3L414.8 723.3L415.3 723.3L415.8 723.3L416.3 723.2L416.8 723.2L417.3 723.2L417.8 723.2L418.3 723.1L418.8 723.1L419.3 723.1L420.0 723.1L428.0 722.8L436.0 722.5L444.0 722.2L452.0 721.9L460.0 721.7L468.0 721.5L476.0 721.3L484.0 721.1L492.0 720.9L500.0 720.7L508.0 720.6L516.0 720.4L524.0 720.3L532.0 720.1L540.0 720.0L548.0 719.9L556.0 719.7L564.0 719.6L572.0 719.5L580.0 719.4L588.0 719.3L596.0 719.2L604.0 719.1L612.0 719.0L620.0 718.9L628.0 718.9L636.0 718.8L644.0 718.7L652.0 718.6L660.0 718.6L668.0 718.5L676.0 718.4L684.0 718.3L692.0 718.3L700.0 718.2L708.0 718.2L716.0 718.1L724.0 718.0L732.0 718.0L740.0 717.9L748.0 717.9L756.0 717.8L764.0 717.8L772.0 717.7L780.0 717.7L788.0 717.6L796.0 717.6L804.0 717.5L812.0 717.5L820.0 717.5L828.0 717.4L836.0 717.4L844.0 717.3L852.0 717.3L860.0 717.3L868.0 717.2L876.0 717.2L884.0 717.2L892.0 717.1L900.0 717.1L908.0 717.1L916.0 717.0L924.0 717.0L932.0 717.0L940.0 716.9L948.0 716.9L956.0 716.9L964.0 716.8L972.0 716.8L980.0 716.8L988.0 716.7L996.0 716.7L1004.0 716.7L1012.0 716.7L1020.0 716.6L1028.0 716.6L1036.0 716.6L1044.0 716.6L1052.0 716.5L1060.0 716.5L1068.0 716.5L1076.0 716.5L1084.0 716.4L1092.0 716.4L1100.0 716.4L1108.0 716.4L1116.0 716.4L1124.0 716.3L1132.0 716.3L1140.0 716.3L1148.0 716.3L1156.0 716.3L1164.0 716.2L1172.0 716.2L1180.0 716.2L1188.0 716.2L1196.0 716.2L1204.0 716.1L1212.0 716.1L1220.0 716.1L1228.0 716.1L1236.0 716.1L1244.0 716.0L1252.0 716.0L1260.0 716.0L1268.0 716.0L1276.0 716.0L1284.0 716.0L1292.0 715.9L1300.0 715.9L1308.0 715.9L1316.0 715.9L1324.0 715.9L1332.0 715.9L1340.0 715.9L1348.0 715.8L1356.0 715.8L1364.0 715.8L1372.0 715.8L1380.0 715.8L1388.0 715.8L1396.0 715.8L1404.0 715.7L1412.0 715.7L1420.0 715.7L1428.0 715.7L1436.0 715.7L1444.0 715.7L1452.0 715.7L1460.0 715.6L1468.0 715.6L1476.0 715.6L1484.0 715.6L1492.0 715.6L1500.0 715.6L1508.0 715.6L1516.0 715.6L1524.0 715.5L1532.0 715.5L1540.0 715.5L1548.0 715.5L1556.0 715.5L1564.0 715.5L1572.0 715.5L1580.0 715.5L1588.0 715.5L1596.0 715.4L1604.0 715.4L1612.0 715.4L1620.0 715.4L1628.0 715.4L1636.0 715.4L1644.0 715.4L1652.0 715.4L1660.0 715.4L1668.0 715.4L1676.0 715.3L1684.0 715.3L1692.0 715.3L1700.0 715.3L1708.0 715.3L1716.0 715.3L1724.0 715.3L1732.0 715.3L1740.0 715.3L1748.0 715.3L1756.0 715.2L1764.0 715.2L1772.0 715.2L1780.0 715.2L1788.0 715.2L1796.0 715.2L1804.0 715.2L1812.0 715.2L1820.0 715.2L1828.0 715.2L1836.0 715.2L1844.0 715.2L1852.0 715.1L1860.0 715.1L1868.0 715.1L1876.0 715.1L1884.0 715.1L1892.0 715.1L1900.0 715.1L1908.0 715.1L1916.0 715.1L1924.0 715.1L1932.0 715.1L1940.0 715.1L1948.0 715.0L1956.0 715.0L1964.0 715.0L1972.0 715.0L1980.0 715.0L1988.0 715.0L1996.0 715.0L2004.0 715.0" stroke="#800080" stroke-width="3" fill="none" stroke-linejoin="round"/>
<g fill="#800080"><circle cx="294.8" cy="1439" r="16"/><circle cx="414.9" cy="723.3" r="16"/><circle cx="537.2" cy="720.0" r="16"/><circle cx="659.4" cy="718.6" r="16"/><circle cx="781.7" cy="717.7" r="16"/><circle cx="903.9" cy="717.1" r="16"/><circle cx="1026.2" cy="716.6" r="16"/><circle cx="1148.4" cy="716.3" r="16"/><circle cx="1270.6" cy="716.0" r="16"/><circle cx="1392.9" cy="715.8" r="16"/><circle cx="1515.1" cy="715.6" r="16"/><circle cx="1637.4" cy="715.4" r="16"/><circle cx="1759.6" cy="715.2" r="16"/><circle cx="1881.9" cy="715.1" r="16"/></g>
<path d="M294.3 1528.0L294.8 1388.5L295.3 1276.7L295.8 1176.0L296.3 1146.2L296.8 1119.4L297.3 1092.3L297.8 1071.6L298.3 1056.4L298.8 1041.9L299.3 1027.4L299.8 1016.0L300.3 1008.8L300.8 1001.9L301.3 995.1L301.8 988.3L302.3 981.5L302.8 974.7L303.3 967.9L303.8 961.0L304.3 954.2L304.8 947.4L305.3 941.7L305.8 937.2L306.3 932.8L306.8 928.4L307.3 924.0L307.8 919.6L308.3 915.2L308.8 910.7L309.3 906.3L309.8 901.9L310.3 897.5L310.8 893.3L311.3 889.8L311.8 886.4L312.3 882.9L312.8 879.5L313.3 876.0L313.8 872.6L314.3 869.1L314.8 865.7L315.3 862.2L315.8 858.8L316.3 855.3L316.8 851.9L317.3 848.4L317.8 845.0L318.3 841.5L318.8 838.3L319.3 835.4L319.8 832.4L320.3 829.4L320.8 826.4L321.3 823.4L321.8 820.5L322.3 817.5L322.8 814.5L323.3 811.5L323.8 808.8L324.3 806.2L324.8 803.6L325.3 801.0L325.8 798.4L326.3 795.9L326.8 793.3L327.3 790.7L327.8 788.2L328.3 785.6L328.8 783.0L329.3 780.5L329.8 778.2L330.3 776.1L330.8 774.0L331.3 771.8L331.8 769.7L332.3 767.6L332.8 765.5L333.3 763.5L333.8 761.4L334.3 759.4L334.8 757.4L335.3 755.5L335.8 753.6L336.3 751.8L336.8 750.2L337.3 748.6L337.8 747.3L338.3 746.1L338.8 745.0L339.3 744.2L339.8 743.4L340.3 742.9L340.8 742.4L341.3 742.0L341.8 741.7L342.3 741.5L342.8 741.3L343.3 741.1L343.8 741.0L344.3 740.8L344.8 740.7L345.3 740.6L345.8 740.5L346.3 740.4L346.8 740.3L347.3 740.2L347.8 740.1L348.3 740.0L348.8 739.9L349.3 739.9L349.8 739.8L350.3 739.7L350.8 739.6L351.3 739.5L351.8 739.5L352.3 739.4L352.8 739.3L353.3 739.2L353.8 739.2L354.3 739.1L354.8 739.0L355.3 738.9L355.8 738.9L356.3 738.8L356.8 738.7L357.3 738.7L357.8 738.6L358.3 738.5L358.8 738.4L359.3 738.4L359.8 738.3L360.3 738.2L360.8 738.2L361.3 738.1L361.8 738.1L362.3 738.0L362.8 737.9L363.3 737.9L363.8 737.8L364.3 737.7L364.8 737.7L365.3 737.6L365.8 737.6L366.3 737.5L366.8 737.4L367.3 737.4L367.8 737.3L368.3 737.3L368.8 737.2L369.3 737.1L369.8 737.1L370.3 737.0L370.8 737.0L371.3 736.9L371.8 736.9L372.3 736.8L372.8 736.8L373.3 736.7L373.8 736.7L374.3 736.6L374.8 736.5L375.3 736.5L375.8 736.4L376.3 736.4L376.8 736.3L377.3 736.3L377.8 736.2L378.3 736.2L378.8 736.1L379.3 736.1L379.8 736.0L380.3 736.0L380.8 735.9L381.3 735.9L381.8 735.8L382.3 735.8L382.8 735.8L383.3 735.7L383.8 735.7L384.3 735.6L384.8 735.6L385.3 735.5L385.8 735.5L386.3 735.4L386.8 735.4L387.3 735.3L387.8 735.3L388.3 735.3L388.8 735.2L389.3 735.2L389.8 735.1L390.3 735.1L390.8 735.0L391.3 735.0L391.8 734.9L392.3 734.9L392.8 734.9L393.3 734.8L393.8 734.8L394.3 734.7L394.8 734.7L395.3 734.7L395.8 734.6L396.3 734.6L396.8 734.5L397.3 734.5L397.8 734.5L398.3 734.4L398.8 734.4L399.3 734.3L399.8 734.3L400.3 734.3L400.8 734.2L401.3 734.2L401.8 734.1L402.3 734.1L402.8 734.1L403.3 734.0L403.8 734.0L404.3 734.0L404.8 733.9L405.3 733.9L405.8 733.8L406.3 733.8L406.8 733.8L407.3 733.7L407.8 733.7L408.3 733.7L408.8 733.6L409.3 733.6L409.8 733.6L410.3 733.5L410.8 733.5L411.3 733.5L411.8 733.5L412.3 733.5L412.8 733.5L413.3 733.4L413.8 733.4L414.3 733.4L414.8 733.4L415.3 733.4L415.8 733.4L416.3 733.4L416.8 733.4L417.3 733.4L417.8 733.4L418.3 733.3L418.8 733.3L419.3 733.3L420.0 733.3L428.0 733.1L436.0 733.0L444.0 732.8L452.0 732.7L460.0 732.5L468.0 732.3L476.0 732.2L484.0 732.0L492.0 731.8L500.0 731.7L508.0 731.5L516.0 731.3L524.0 731.2L532.0 731.0L540.0 730.8L548.0 730.6L556.0 730.4L564.0 730.1L572.0 729.8L580.0 729.4L588.0 729.0L596.0 728.6L604.0 728.2L612.0 727.7L620.0 727.3L628.0 726.8L636.0 726.3L644.0 725.8L652.0 725.3L660.0 724.8L668.0 724.3L676.0 723.8L684.0 723.3L692.0 722.8L700.0 722.4L708.0 721.9L716.0 721.5L724.0 721.2L732.0 720.8L740.0 720.5L748.0 720.2L756.0 720.0L764.0 719.8L772.0 719.6L780.0 719.5L788.0 719.4L796.0 719.3L804.0 719.1L812.0 719.0L820.0 718.9L828.0 718.8L836.0 718.7L844.0 718.6L852.0 718.6L860.0 718.5L868.0 718.4L876.0 718.3L884.0 718.2L892.0 718.1L900.0 718.0L908.0 717.9L916.0 717.9L924.0 717.8L932.0 717.7L940.0 717.6L948.0 717.6L956.0 717.5L964.0 717.4L972.0 717.4L980.0 717.3L988.0 717.2L996.0 717.2L1004.0 717.1L1012.0 717.0L1020.0 717.0L1028.0 716.9L1036.0 716.8L1044.0 716.8L1052.0 716.7L1060.0 716.7L1068.0 716.6L1076.0 716.5L1084.0 716.5L1092.0 716.4L1100.0 716.4L1108.0 716.3L1116.0 716.3L1124.0 716.2L1132.0 716.2L1140.0 716.1L1148.0 716.1L1156.0 716.0L1164.0 716.0L1172.0 715.9L1180.0 715.9L1188.0 715.8L1196.0 715.8L1204.0 715.7L1212.0 715.7L1220.0 715.7L1228.0 715.6L1236.0 715.6L1244.0 715.5L1252.0 715.5L1260.0 715.4L1268.0 715.4L1276.0 715.4L1284.0 715.3L1292.0 715.3L1300.0 715.2L1308.0 715.2L1316.0 715.2L1324.0 715.1L1332.0 715.1L1340.0 715.1L1348.0 715.0L1356.0 715.0L1364.0 715.0L1372.0 714.9L1380.0 714.9L1388.0 714.9L1396.0 714.8L1404.0 714.8L1412.0 714.8L1420.0 714.7L1428.0 714.7L1436.0 714.7L1444.0 714.6L1452.0 714.6L1460.0 714.6L1468.0 714.5L1476.0 714.5L1484.0 714.5L1492.0 714.4L1500.0 714.4L1508.0 714.4L1516.0 714.4L1524.0 714.3L1532.0 714.3L1540.0 714.3L1548.0 714.2L1556.0 714.2L1564.0 714.2L1572.0 714.2L1580.0 714.1L1588.0 714.1L1596.0 714.1L1604.0 714.1L1612.0 714.0L1620.0 714.0L1628.0 714.0L1636.0 713.9L1644.0 713.9L1652.0 713.9L1660.0 713.9L1668.0 713.9L1676.0 713.8L1684.0 713.8L1692.0 713.8L1700.0 713.8L1708.0 713.7L1716.0 713.7L1724.0 713.7L1732.0 713.7L1740.0 713.6L1748.0 713.6L1756.0 713.6L1764.0 713.6L1772.0 713.6L1780.0 713.5L1788.0 713.5L1796.0 713.5L1804.0 713.5L1812.0 713.4L1820.0 713.4L1828.0 713.4L1836.0 713.4L1844.0 713.4L1852.0 713.3L1860.0 713.3L1868.0 713.3L1876.0 713.3L1884.0 713.3L1892.0 713.2L1900.0 713.2L1908.0 713.2L1916.0 713.2L1924.0 713.2L1932.0 713.2L1940.0 713.1L1948.0 713.1L1956.0 713.1L1964.0 713.1L1972.0 713.1L1980.0 713.0L1988.0 713.0L1996.0 713.0L2004.0 713.0" stroke="#800080" stroke-width="3" fill="none" stroke-linejoin="round"/>
<g fill="#800080"><rect x="276.9" y="1442.5" width="30" height="31"/><rect x="399.9" y="718.4" width="30" height="30"/><rect x="522.2" y="715.9" width="30" height="30"/><rect x="644.4" y="709.8" width="30" height="30"/><rect x="766.7" y="704.4" width="30" height="30"/><rect x="888.9" y="703.0" width="30" height="30"/><rect x="1011.2" y="701.9" width="30" height="30"/><rect x="1133.4" y="701.1" width="30" height="30"/><rect x="1255.6" y="700.4" width="30" height="30"/><rect x="1377.9" y="699.8" width="30" height="30"/><rect x="1500.1" y="699.4" width="30" height="30"/><rect x="1622.4" y="698.9" width="30" height="30"/><rect x="1744.6" y="698.6" width="30" height="30"/><rect x="1866.9" y="698.3" width="30" height="30"/></g>
<path d="M294.3 1528.0L294.8 1391.0L295.3 1284.0L295.8 1179.8L296.3 1151.4L296.8 1125.2L297.3 1098.9L297.8 1075.8L298.3 1061.0L298.8 1046.7L299.3 1032.5L299.8 1018.6L300.3 1011.6L300.8 1004.8L301.3 998.0L301.8 991.3L302.3 984.6L302.8 977.8L303.3 971.1L303.8 964.4L304.3 957.6L304.8 950.9L305.3 944.1L305.8 939.6L306.3 935.2L306.8 930.8L307.3 926.5L307.8 922.1L308.3 917.7L308.8 913.4L309.3 909.0L309.8 904.6L310.3 900.3L310.8 895.9L311.3 892.0L311.8 888.6L312.3 885.2L312.8 881.7L313.3 878.3L313.8 874.9L314.3 871.5L314.8 868.1L315.3 864.6L315.8 861.2L316.3 857.8L316.8 854.4L317.3 851.0L317.8 847.5L318.3 844.1L318.8 840.7L319.3 837.6L319.8 834.7L320.3 831.7L320.8 828.7L321.3 825.8L321.8 822.8L322.3 819.9L322.8 816.9L323.3 814.0L323.8 811.0L324.3 808.3L324.8 805.7L325.3 803.2L325.8 800.6L326.3 798.1L326.8 795.5L327.3 793.0L327.8 790.4L328.3 787.9L328.8 785.3L329.3 782.7L329.8 780.2L330.3 778.0L330.8 775.9L331.3 773.8L331.8 771.7L332.3 769.6L332.8 767.5L333.3 765.4L333.8 763.4L334.3 761.3L334.8 759.3L335.3 757.4L335.8 755.5L336.3 753.7L336.8 752.0L337.3 750.4L337.8 748.9L338.3 747.7L338.8 746.5L339.3 745.6L339.8 744.8L340.3 744.2L340.8 743.7L341.3 743.2L341.8 742.9L342.3 742.7L342.8 742.4L343.3 742.3L343.8 742.1L344.3 742.0L344.8 741.9L345.3 741.8L345.8 741.7L346.3 741.6L346.8 741.5L347.3 741.4L347.8 741.3L348.3 741.3L348.8 741.2L349.3 741.1L349.8 741.0L350.3 741.0L350.8 740.9L351.3 740.8L351.8 740.8L352.3 740.7L352.8 740.6L353.3 740.6L353.8 740.5L354.3 740.4L354.8 740.4L355.3 740.3L355.8 740.2L356.3 740.2L356.8 740.1L357.3 740.1L357.8 740.0L358.3 739.9L358.8 739.9L359.3 739.8L359.8 739.8L360.3 739.7L360.8 739.7L361.3 739.6L361.8 739.6L362.3 739.5L362.8 739.5L363.3 739.4L363.8 739.3L364.3 739.3L364.8 739.2L365.3 739.2L365.8 739.1L366.3 739.1L366.8 739.0L367.3 739.0L367.8 738.9L368.3 738.9L368.8 738.9L369.3 738.8L369.8 738.8L370.3 738.7L370.8 738.7L371.3 738.6L371.8 738.6L372.3 738.5L372.8 738.5L373.3 738.4L373.8 738.4L374.3 738.4L374.8 738.3L375.3 738.3L375.8 738.2L376.3 738.2L376.8 738.2L377.3 738.1L377.8 738.1L378.3 738.0L378.8 738.0L379.3 738.0L379.8 737.9L380.3 737.9L380.8 737.8L381.3 737.8L381.8 737.8L382.3 737.7L382.8 737.7L383.3 737.7L383.8 737.6L384.3 737.6L384.8 737.5L385.3 737.5L385.8 737.5L386.3 737.4L386.8 737.4L387.3 737.4L387.8 737.3L388.3 737.3L388.8 737.3L389.3 737.2L389.8 737.2L390.3 737.2L390.8 737.1L391.3 737.1L391.8 737.1L392.3 737.0L392.8 737.0L393.3 737.0L393.8 736.9L394.3 736.9L394.8 736.9L395.3 736.8L395.8 736.8L396.3 736.8L396.8 736.8L397.3 736.7L397.8 736.7L398.3 736.7L398.8 736.6L399.3 736.6L399.8 736.6L400.3 736.5L400.8 736.5L401.3 736.5L401.8 736.5L402.3 736.4L402.8 736.4L403.3 736.4L403.8 736.4L404.3 736.3L404.8 736.3L405.3 736.3L405.8 736.2L406.3 736.2L406.8 736.2L407.3 736.2L407.8 736.1L408.3 736.1L408.8 736.1L409.3 736.1L409.8 736.0L410.3 736.0L410.8 736.0L411.3 736.0L411.8 736.0L412.3 736.0L412.8 736.0L413.3 736.0L413.8 736.0L414.3 736.0L414.8 736.0L415.3 736.0L415.8 736.0L416.3 736.0L416.8 736.0L417.3 736.0L417.8 736.0L418.3 735.9L418.8 735.9L419.3 735.9L420.0 735.9L428.0 735.9L436.0 735.8L444.0 735.8L452.0 735.7L460.0 735.7L468.0 735.6L476.0 735.6L484.0 735.5L492.0 735.5L500.0 735.4L508.0 735.4L516.0 735.3L524.0 735.3L532.0 735.2L540.0 735.2L548.0 735.1L556.0 735.1L564.0 735.0L572.0 735.0L580.0 734.9L588.0 734.8L596.0 734.8L604.0 734.7L612.0 734.7L620.0 734.6L628.0 734.6L636.0 734.5L644.0 734.5L652.0 734.4L660.0 734.4L668.0 734.3L676.0 734.3L684.0 734.2L692.0 734.2L700.0 734.1L708.0 734.1L716.0 734.0L724.0 734.0L732.0 733.9L740.0 733.9L748.0 733.8L756.0 733.8L764.0 733.7L772.0 733.7L780.0 733.6L788.0 733.6L796.0 733.5L804.0 733.4L812.0 733.4L820.0 733.3L828.0 733.3L836.0 733.2L844.0 733.2L852.0 733.1L860.0 733.1L868.0 733.0L876.0 733.0L884.0 732.9L892.0 732.9L900.0 732.8L908.0 732.8L916.0 732.7L924.0 732.7L932.0 732.6L940.0 732.6L948.0 732.5L956.0 732.5L964.0 732.4L972.0 732.4L980.0 732.3L988.0 732.3L996.0 732.2L1004.0 732.2L1012.0 732.1L1020.0 732.0L1028.0 732.0L1036.0 731.9L1044.0 731.9L1052.0 731.8L1060.0 731.8L1068.0 731.7L1076.0 731.7L1084.0 731.6L1092.0 731.6L1100.0 731.5L1108.0 731.5L1116.0 731.4L1124.0 731.4L1132.0 731.3L1140.0 731.3L1148.0 731.2L1156.0 731.2L1164.0 731.1L1172.0 731.1L1180.0 731.0L1188.0 731.0L1196.0 730.9L1204.0 730.9L1212.0 730.8L1220.0 730.8L1228.0 730.7L1236.0 730.6L1244.0 730.6L1252.0 730.5L1260.0 730.5L1268.0 730.4L1276.0 730.4L1284.0 730.3L1292.0 730.3L1300.0 730.2L1308.0 730.2L1316.0 730.1L1324.0 730.1L1332.0 730.0L1340.0 730.0L1348.0 729.9L1356.0 729.9L1364.0 729.8L1372.0 729.8L1380.0 729.7L1388.0 729.7L1396.0 729.6L1404.0 729.6L1412.0 729.5L1420.0 729.5L1428.0 729.4L1436.0 729.4L1444.0 729.3L1452.0 729.2L1460.0 729.2L1468.0 729.1L1476.0 729.1L1484.0 729.0L1492.0 729.0L1500.0 728.9L1508.0 728.9L1516.0 728.8L1524.0 728.8L1532.0 728.7L1540.0 728.7L1548.0 728.6L1556.0 728.6L1564.0 728.5L1572.0 728.5L1580.0 728.4L1588.0 728.4L1596.0 728.3L1604.0 728.3L1612.0 728.2L1620.0 728.2L1628.0 728.1L1636.0 728.1L1644.0 728.0L1652.0 728.0L1660.0 727.9L1668.0 727.8L1676.0 727.8L1684.0 727.7L1692.0 727.7L1700.0 727.6L1708.0 727.6L1716.0 727.5L1724.0 727.5L1732.0 727.4L1740.0 727.4L1748.0 727.3L1756.0 727.3L1764.0 727.2L1772.0 727.2L1780.0 727.1L1788.0 727.1L1796.0 727.0L1804.0 727.0L1812.0 726.9L1820.0 726.9L1828.0 726.8L1836.0 726.8L1844.0 726.7L1852.0 726.7L1860.0 726.6L1868.0 726.6L1876.0 726.5L1884.0 726.4L1892.0 726.4L1900.0 726.3L1908.0 726.3L1916.0 726.2L1924.0 726.2L1932.0 726.1L1940.0 726.1L1948.0 726.0L1956.0 726.0L1964.0 725.9L1972.0 725.9L1980.0 725.8L1988.0 725.8L1996.0 725.7L2004.0 725.7" stroke="#008000" stroke-width="3" fill="none" stroke-linejoin="round"/>
<g fill="#008000"><circle cx="414.9" cy="736.0" r="16"/><circle cx="537.2" cy="735.2" r="16"/><circle cx="659.4" cy="734.4" r="16"/><circle cx="781.7" cy="733.6" r="16"/><circle cx="903.9" cy="732.8" r="16"/><circle cx="1026.2" cy="732.0" r="16"/><circle cx="1148.4" cy="731.2" r="16"/><circle cx="1270.6" cy="730.4" r="16"/><circle cx="1392.9" cy="729.6" r="16"/><circle cx="1515.1" cy="728.8" r="16"/><circle cx="1637.4" cy="728.0" r="16"/><circle cx="1759.6" cy="727.3" r="16"/><circle cx="1881.9" cy="726.5" r="16"/></g>
<path d="M294.3 1528.0L294.8 1406.5L295.3 1323.3L295.8 1246.6L296.3 1179.2L296.8 1156.9L297.3 1134.6L297.8 1112.4L298.3 1090.2L298.8 1073.0L299.3 1060.2L299.8 1047.5L300.3 1034.8L300.8 1021.9L301.3 1014.1L301.8 1007.7L302.3 1001.4L302.8 995.1L303.3 988.8L303.8 982.4L304.3 976.1L304.8 969.8L305.3 963.5L305.8 957.2L306.3 950.9L306.8 944.5L307.3 940.2L307.8 936.0L308.3 931.8L308.8 927.6L309.3 923.5L309.8 919.3L310.3 915.1L310.8 911.0L311.3 906.8L311.8 902.6L312.3 898.5L312.8 894.3L313.3 890.9L313.8 887.6L314.3 884.4L314.8 881.1L315.3 877.8L315.8 874.5L316.3 871.2L316.8 867.9L317.3 864.6L317.8 861.3L318.3 858.1L318.8 854.8L319.3 851.5L319.8 848.2L320.3 844.9L320.8 841.6L321.3 838.5L321.8 835.7L322.3 832.9L322.8 830.0L323.3 827.2L323.8 824.3L324.3 821.5L324.8 818.6L325.3 815.8L325.8 812.9L326.3 810.1L326.8 807.6L327.3 805.1L327.8 802.7L328.3 800.2L328.8 797.8L329.3 795.3L329.8 792.9L330.3 790.5L330.8 788.2L331.3 785.8L331.8 783.6L332.3 781.4L332.8 779.6L333.3 777.9L333.8 776.3L334.3 774.8L334.8 773.5L335.3 772.3L335.8 771.2L336.3 770.3L336.8 769.5L337.3 768.8L337.8 768.2L338.3 767.7L338.8 767.2L339.3 766.8L339.8 766.5L340.3 766.2L340.8 765.9L341.3 765.6L341.8 765.3L342.3 765.1L342.8 764.9L343.3 764.6L343.8 764.4L344.3 764.2L344.8 764.0L345.3 763.8L345.8 763.6L346.3 763.4L346.8 763.2L347.3 763.0L347.8 762.9L348.3 762.7L348.8 762.5L349.3 762.3L349.8 762.1L350.3 762.0L350.8 761.8L351.3 761.6L351.8 761.4L352.3 761.3L352.8 761.1L353.3 761.0L353.8 760.8L354.3 760.6L354.8 760.5L355.3 760.3L355.8 760.2L356.3 760.0L356.8 759.9L357.3 759.7L357.8 759.6L358.3 759.4L358.8 759.3L359.3 759.1L359.8 759.0L360.3 758.9L360.8 758.7L361.3 758.6L361.8 758.5L362.3 758.3L362.8 758.2L363.3 758.1L363.8 757.9L364.3 757.8L364.8 757.7L365.3 757.5L365.8 757.4L366.3 757.3L366.8 757.2L367.3 757.1L367.8 756.9L368.3 756.8L368.8 756.7L369.3 756.6L369.8 756.5L370.3 756.4L370.8 756.2L371.3 756.1L371.8 756.0L372.3 755.9L372.8 755.8L373.3 755.7L373.8 755.6L374.3 755.5L374.8 755.4L375.3 755.3L375.8 755.2L376.3 755.1L376.8 755.0L377.3 754.9L377.8 754.8L378.3 754.7L378.8 754.6L379.3 754.5L379.8 754.4L380.3 754.3L380.8 754.2L381.3 754.1L381.8 754.0L382.3 753.9L382.8 753.8L383.3 753.7L383.8 753.6L384.3 753.5L384.8 753.4L385.3 753.3L385.8 753.3L386.3 753.2L386.8 753.1L387.3 753.0L387.8 752.9L388.3 752.8L388.8 752.7L389.3 752.7L389.8 752.6L390.3 752.5L390.8 752.4L391.3 752.3L391.8 752.3L392.3 752.2L392.8 752.1L393.3 752.0L393.8 751.9L394.3 751.9L394.8 751.8L395.3 751.7L395.8 751.6L396.3 751.6L396.8 751.5L397.3 751.4L397.8 751.3L398.3 751.3L398.8 751.2L399.3 751.1L399.8 751.0L400.3 751.0L400.8 750.9L401.3 750.8L401.8 750.8L402.3 750.7L402.8 750.6L403.3 750.5L403.8 750.5L404.3 750.4L404.8 750.3L405.3 750.3L405.8 750.2L406.3 750.1L406.8 750.1L407.3 750.0L407.8 749.9L408.3 749.9L408.8 749.8L409.3 749.8L409.8 749.7L410.3 749.6L410.8 749.6L411.3 749.5L411.8 749.4L412.3 749.4L412.8 749.3L413.3 749.3L413.8 749.2L414.3 749.1L414.8 749.1L415.3 749.0L415.8 749.0L416.3 748.9L416.8 748.8L417.3 748.8L417.8 748.7L418.3 748.7L418.8 748.6L419.3 748.6L420.0 748.5L428.0 747.6L436.0 746.8L444.0 746.1L452.0 745.4L460.0 744.8L468.0 744.2L476.0 743.7L484.0 743.2L492.0 742.7L500.0 742.3L508.0 741.8L516.0 741.4L524.0 741.0L532.0 740.7L540.0 740.3L548.0 740.0L556.0 739.7L564.0 739.4L572.0 739.1L580.0 738.8L588.0 738.6L596.0 738.3L604.0 738.1L612.0 737.8L620.0 737.6L628.0 737.4L636.0 737.2L644.0 737.0L652.0 736.8L660.0 736.6L668.0 736.4L676.0 736.2L684.0 736.0L692.0 735.9L700.0 735.7L708.0 735.5L716.0 735.4L724.0 735.2L732.0 735.1L740.0 734.9L748.0 734.8L756.0 734.7L764.0 734.5L772.0 734.4L780.0 734.3L788.0 734.1L796.0 734.0L804.0 733.9L812.0 733.8L820.0 733.7L828.0 733.6L836.0 733.5L844.0 733.4L852.0 733.3L860.0 733.2L868.0 733.1L876.0 733.0L884.0 732.9L892.0 732.8L900.0 732.7L908.0 732.6L916.0 732.5L924.0 732.4L932.0 732.4L940.0 732.3L948.0 732.2L956.0 732.1L964.0 732.0L972.0 732.0L980.0 731.9L988.0 731.8L996.0 731.7L1004.0 731.7L1012.0 731.6L1020.0 731.5L1028.0 731.5L1036.0 731.4L1044.0 731.3L1052.0 731.3L1060.0 731.2L1068.0 731.1L1076.0 731.1L1084.0 731.0L1092.0 731.0L1100.0 730.9L1108.0 730.8L1116.0 730.8L1124.0 730.7L1132.0 730.7L1140.0 730.6L1148.0 730.6L1156.0 730.5L1164.0 730.5L1172.0 730.4L1180.0 730.3L1188.0 730.3L1196.0 730.2L1204.0 730.2L1212.0 730.2L1220.0 730.1L1228.0 730.1L1236.0 730.0L1244.0 730.0L1252.0 729.9L1260.0 729.9L1268.0 729.8L1276.0 729.8L1284.0 729.7L1292.0 729.7L1300.0 729.7L1308.0 729.6L1316.0 729.6L1324.0 729.5L1332.0 729.5L1340.0 729.5L1348.0 729.4L1356.0 729.4L1364.0 729.3L1372.0 729.3L1380.0 729.3L1388.0 729.2L1396.0 729.2L1404.0 729.1L1412.0 729.1L1420.0 729.1L1428.0 729.0L1436.0 729.0L1444.0 729.0L1452.0 728.9L1460.0 728.9L1468.0 728.9L1476.0 728.8L1484.0 728.8L1492.0 728.8L1500.0 728.7L1508.0 728.7L1516.0 728.7L1524.0 728.6L1532.0 728.6L1540.0 728.6L1548.0 728.6L1556.0 728.5L1564.0 728.5L1572.0 728.5L1580.0 728.4L1588.0 728.4L1596.0 728.4L1604.0 728.3L1612.0 728.3L1620.0 728.3L1628.0 728.3L1636.0 728.2L1644.0 728.2L1652.0 728.2L1660.0 728.2L1668.0 728.1L1676.0 728.1L1684.0 728.1L1692.0 728.1L1700.0 728.0L1708.0 728.0L1716.0 728.0L1724.0 728.0L1732.0 727.9L1740.0 727.9L1748.0 727.9L1756.0 727.9L1764.0 727.8L1772.0 727.8L1780.0 727.8L1788.0 727.8L1796.0 727.7L1804.0 727.7L1812.0 727.7L1820.0 727.7L1828.0 727.6L1836.0 727.6L1844.0 727.6L1852.0 727.6L1860.0 727.6L1868.0 727.5L1876.0 727.5L1884.0 727.5L1892.0 727.5L1900.0 727.4L1908.0 727.4L1916.0 727.4L1924.0 727.4L1932.0 727.4L1940.0 727.3L1948.0 727.3L1956.0 727.3L1964.0 727.3L1972.0 727.3L1980.0 727.2L1988.0 727.2L1996.0 727.2L2004.0 727.2" stroke="#008000" stroke-width="3" fill="none" stroke-linejoin="round"/>
<g fill="#008000"><rect x="399.9" y="734.1" width="30" height="30"/><rect x="522.2" y="725.5" width="30" height="30"/><rect x="644.4" y="721.6" width="30" height="30"/><rect x="766.7" y="719.2" width="30" height="30"/><rect x="888.9" y="717.7" width="30" height="30"/><rect x="1011.2" y="716.5" width="30" height="30"/><rect x="1133.4" y="715.6" width="30" height="30"/><rect x="1255.6" y="714.8" width="30" height="30"/><rect x="1377.9" y="714.2" width="30" height="30"/><rect x="1500.1" y="713.7" width="30" height="30"/><rect x="1622.4" y="713.2" width="30" height="30"/><rect x="1744.6" y="712.8" width="30" height="30"/><rect x="1866.9" y="712.5" width="30" height="30"/></g>
</g>
<rect x="1287.0" y="835.0" width="349.0" height="677.5" fill="#000"/>
<rect x="1267.5" y="814.5" width="348.0" height="677.5" fill="#fff" stroke="#1a1a1a" stroke-width="2.2"/>
<path d="M1272.3 841.7H1296.5M1336 841.7H1362.5" stroke="#000000" stroke-width="4"/>
<circle cx="1316.5" cy="841.7" r="17" fill="#000000"/>
<text x="1371.6" y="855.3" font-size="38.7" letter-spacing="0.3" font-family="Liberation Sans, Arial, sans-serif" fill="#000">D21 - Initial</text>
<path d="M1272.3 889.7H1290.7M1336.3 889.7H1355.7" stroke="#000000" stroke-width="4"/>
<rect x="1301.0" y="874.2" width="31" height="31" fill="#000000"/>
<text x="1371.6" y="903.3" font-size="38.7" letter-spacing="0.3" font-family="Liberation Sans, Arial, sans-serif" fill="#000">D21 - 1000 hr</text>
<path d="M1272.3 937.6H1296.5M1336 937.6H1362.5" stroke="#ff0000" stroke-width="4"/>
<circle cx="1316.5" cy="937.6" r="17" fill="#ff0000"/>
<text x="1371.6" y="951.2" font-size="38.7" letter-spacing="0.3" font-family="Liberation Sans, Arial, sans-serif" fill="#000">D22 - Initial</text>
<path d="M1272.3 985.6H1290.7M1336.3 985.6H1355.7" stroke="#ff0000" stroke-width="4"/>
<rect x="1301.0" y="970.1" width="31" height="31" fill="#ff0000"/>
<text x="1371.6" y="999.2" font-size="38.7" letter-spacing="0.3" font-family="Liberation Sans, Arial, sans-serif" fill="#000">D22 - 1000 hr</text>
<path d="M1272.3 1033.5H1296.5M1336 1033.5H1362.5" stroke="#0000ff" stroke-width="4"/>
<circle cx="1316.5" cy="1033.5" r="17" fill="#0000ff"/>
<text x="1371.6" y="1047.1" font-size="38.7" letter-spacing="0.3" font-family="Liberation Sans, Arial, sans-serif" fill="#000">D23 - Initial</text>
<path d="M1272.3 1081.5H1290.7M1336.3 1081.5H1355.7" stroke="#0000ff" stroke-width="4"/>
<rect x="1301.0" y="1066.0" width="31" height="31" fill="#0000ff"/>
<text x="1371.6" y="1095.1" font-size="38.7" letter-spacing="0.3" font-family="Liberation Sans, Arial, sans-serif" fill="#000">D23 - 1000 hr</text>
<path d="M1272.3 1129.5H1296.5M1336 1129.5H1362.5" stroke="#00ffff" stroke-width="4"/>
<circle cx="1316.5" cy="1129.5" r="17" fill="#00ffff"/>
<text x="1371.6" y="1143.1" font-size="38.7" letter-spacing="0.3" font-family="Liberation Sans, Arial, sans-serif" fill="#000">D24 - Initial</text>
<path d="M1272.3 1177.4H1290.7M1336.3 1177.4H1355.7" stroke="#00ffff" stroke-width="4"/>
<rect x="1301.0" y="1161.9" width="31" height="31" fill="#00ffff"/>
<text x="1371.6" y="1191.0" font-size="38.7" letter-spacing="0.3" font-family="Liberation Sans, Arial, sans-serif" fill="#000">D24 - 1000 hr</text>
<path d="M1272.3 1225.4H1296.5M1336 1225.4H1362.5" stroke="#ff00ff" stroke-width="4"/>
<circle cx="1316.5" cy="1225.4" r="17" fill="#ff00ff"/>
<text x="1371.6" y="1239.0" font-size="38.7" letter-spacing="0.3" font-family="Liberation Sans, Arial, sans-serif" fill="#000">D25 - Initial</text>
<path d="M1272.3 1273.3H1290.7M1336.3 1273.3H1355.7" stroke="#ff00ff" stroke-width="4"/>
<rect x="1301.0" y="1257.8" width="31" height="31" fill="#ff00ff"/>
<text x="1371.6" y="1286.9" font-size="38.7" letter-spacing="0.3" font-family="Liberation Sans, Arial, sans-serif" fill="#000">D25 - 1000 hr</text>
<path d="M1272.3 1321.3H1296.5M1336 1321.3H1362.5" stroke="#800080" stroke-width="4"/>
<circle cx="1316.5" cy="1321.3" r="17" fill="#800080"/>
<text x="1371.6" y="1334.9" font-size="38.7" letter-spacing="0.3" font-family="Liberation Sans, Arial, sans-serif" fill="#000">D26 - Initial</text>
<path d="M1272.3 1369.3H1290.7M1336.3 1369.3H1355.7" stroke="#800080" stroke-width="4"/>
<rect x="1301.0" y="1353.8" width="31" height="31" fill="#800080"/>
<text x="1371.6" y="1382.9" font-size="38.7" letter-spacing="0.3" font-family="Liberation Sans, Arial, sans-serif" fill="#000">D26 - 1000 hr</text>
<path d="M1272.3 1417.2H1296.5M1336 1417.2H1362.5" stroke="#008000" stroke-width="4"/>
<circle cx="1316.5" cy="1417.2" r="17" fill="#008000"/>
<text x="1371.6" y="1430.8" font-size="38.7" letter-spacing="0.3" font-family="Liberation Sans, Arial, sans-serif" fill="#000">D27 - Initial</text>
<path d="M1272.3 1465.2H1290.7M1336.3 1465.2H1355.7" stroke="#008000" stroke-width="4"/>
<rect x="1301.0" y="1449.7" width="31" height="31" fill="#008000"/>
<text x="1371.6" y="1478.8" font-size="38.7" letter-spacing="0.3" font-family="Liberation Sans, Arial, sans-serif" fill="#000">D27 - 1000 hr</text>
<text x="258.5" y="1545.3" font-size="58.5" text-anchor="end" font-family="Liberation Sans, Arial, sans-serif" fill="#000">10n</text>
<text x="258.5" y="1201.2" font-size="58.5" text-anchor="end" font-family="Liberation Sans, Arial, sans-serif" fill="#000">100n</text>
<text x="258.5" y="857.1" font-size="58.5" text-anchor="end" font-family="Liberation Sans, Arial, sans-serif" fill="#000">1µ</text>
<text x="258.5" y="513.1" font-size="58.5" text-anchor="end" font-family="Liberation Sans, Arial, sans-serif" fill="#000">10µ</text>
<text x="258.5" y="169.0" font-size="58.5" text-anchor="end" font-family="Liberation Sans, Arial, sans-serif" fill="#000">100µ</text>
<text x="288.3" y="1604" font-size="58.5" text-anchor="middle" font-family="Liberation Sans, Arial, sans-serif" fill="#000">0</text>
<text x="532.8" y="1604" font-size="58.5" text-anchor="middle" font-family="Liberation Sans, Arial, sans-serif" fill="#000">100</text>
<text x="777.3" y="1604" font-size="58.5" text-anchor="middle" font-family="Liberation Sans, Arial, sans-serif" fill="#000">200</text>
<text x="1021.8" y="1604" font-size="58.5" text-anchor="middle" font-family="Liberation Sans, Arial, sans-serif" fill="#000">300</text>
<text x="1266.2" y="1604" font-size="58.5" text-anchor="middle" font-family="Liberation Sans, Arial, sans-serif" fill="#000">400</text>
<text x="1510.7" y="1604" font-size="58.5" text-anchor="middle" font-family="Liberation Sans, Arial, sans-serif" fill="#000">500</text>
<text x="1755.2" y="1604" font-size="58.5" text-anchor="middle" font-family="Liberation Sans, Arial, sans-serif" fill="#000">600</text>
<text x="1999.7" y="1604" font-size="58.5" text-anchor="middle" font-family="Liberation Sans, Arial, sans-serif" fill="#000">700</text>
<text x="435.6" y="74.3" font-size="71.4" font-family="Liberation Sans, Arial, sans-serif" fill="#000">Leakage Current</text>
<text x="988" y="74.3" font-size="71.4" font-family="Liberation Sans, Arial, sans-serif" fill="#000">(</text>
<text x="1015.8" y="74.3" font-size="71.4" font-family="Liberation Sans, Arial, sans-serif" fill="#000">I</text>
<text x="1031.5" y="97.6" font-size="44.3" font-family="Liberation Sans, Arial, sans-serif" fill="#000">DSS</text>
<text x="1127" y="74.3" font-size="71.4" font-family="Liberation Sans, Arial, sans-serif" fill="#000">)</text>
<text x="1163.4" y="74.3" font-size="71.4" font-family="Liberation Sans, Arial, sans-serif" fill="#000">of group</text>
<text x="1445.7" y="74.3" font-size="71.4" font-family="Liberation Sans, Arial, sans-serif" fill="#000">"D2"</text>
<text x="1609.3" y="74.3" font-size="71.4" font-family="Liberation Sans, Arial, sans-serif" fill="#000">devices</text>
<text x="1032.5" y="1714.2" font-size="72" font-family="Liberation Sans, Arial, sans-serif" fill="#000">V</text>
<text x="1079.8" y="1739" font-size="42.5" font-family="Liberation Sans, Arial, sans-serif" fill="#000">DS</text>
<text x="1160" y="1714.2" font-size="72" font-family="Liberation Sans, Arial, sans-serif" fill="#000">(V)</text>
<g transform="translate(79.6 951.8) rotate(-90)"><text x="0" y="0" font-size="71" font-family="Liberation Sans, Arial, sans-serif" fill="#000">I</text><text x="19.7" y="25" font-size="42.5" font-family="Liberation Sans, Arial, sans-serif" fill="#000">DSS</text><text x="126.8" y="0" font-size="71" font-family="Liberation Sans, Arial, sans-serif" fill="#000">(A)</text></g>
</svg>
</body></html>
